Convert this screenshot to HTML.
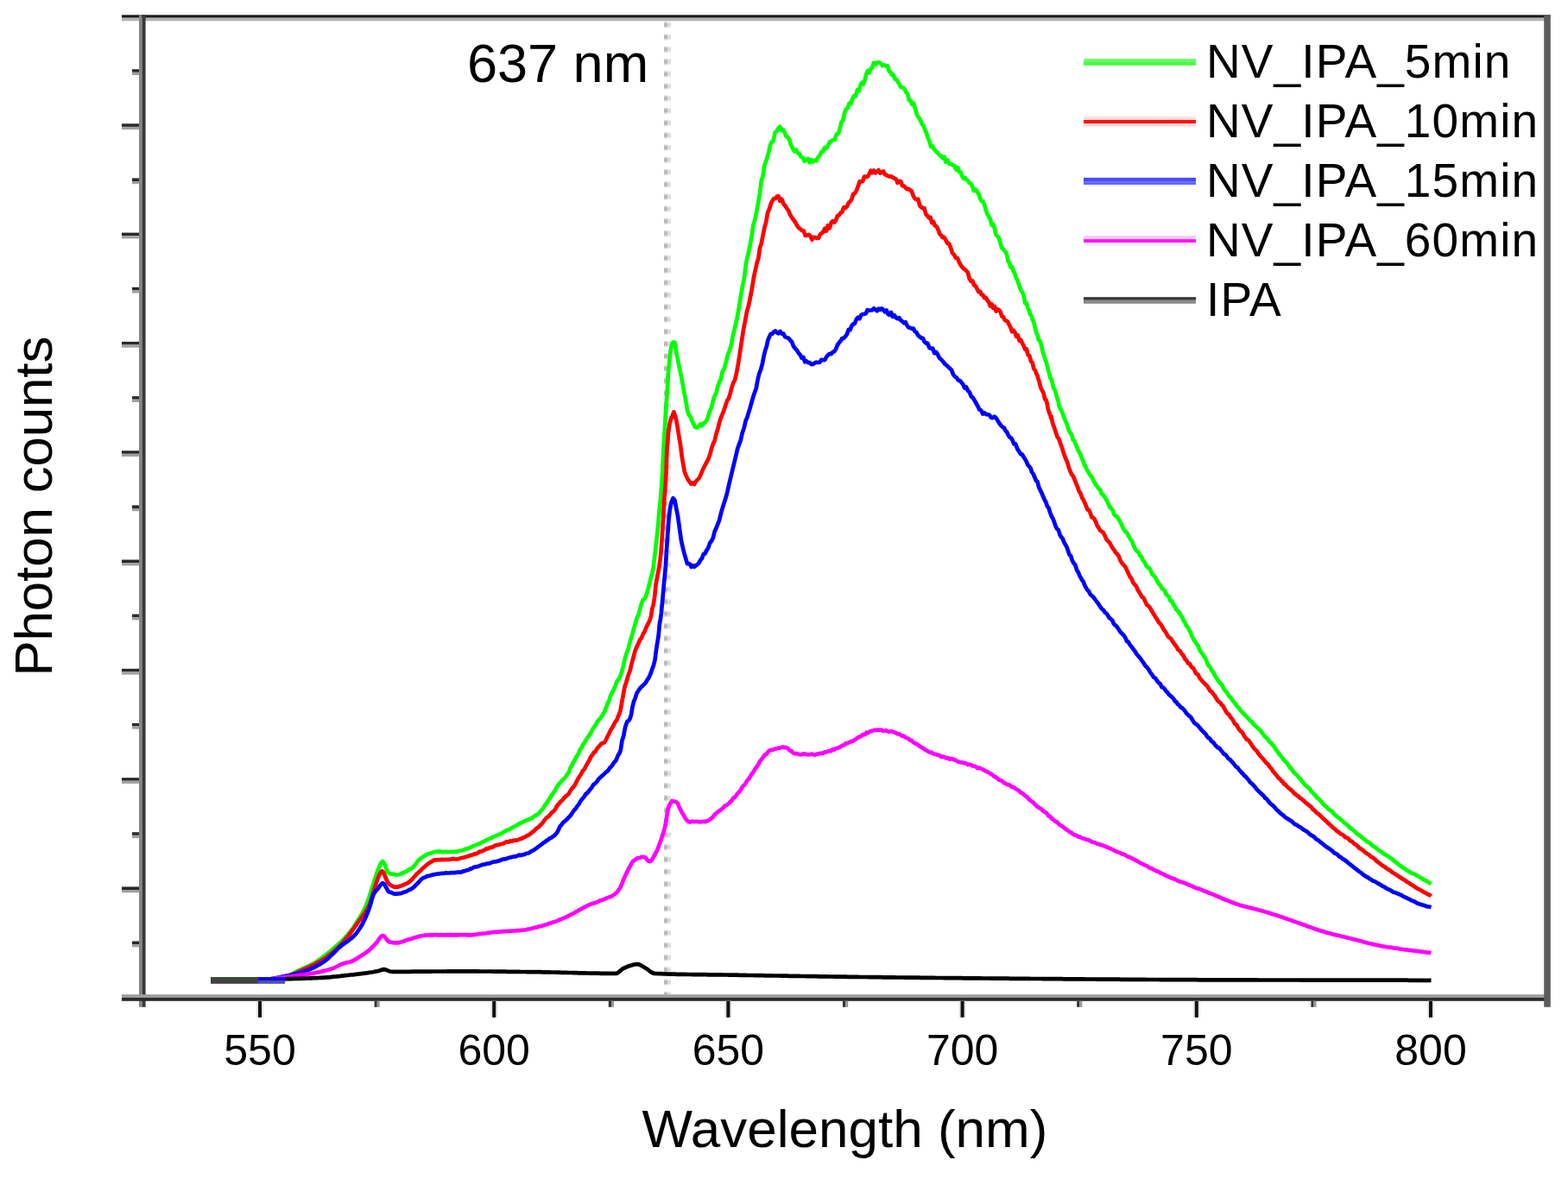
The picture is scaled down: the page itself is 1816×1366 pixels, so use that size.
<!DOCTYPE html>
<html><head><meta charset="utf-8"><title>Photon counts</title><style>html,body{margin:0;padding:0;background:#fff;overflow:hidden}svg{display:block}</style></head><body>
<svg width="1816" height="1366" viewBox="0 0 1816 1366">
<rect width="1816" height="1366" fill="#fff"/>
<line x1="771" y1="25.3" x2="771" y2="1152" stroke="#dadada" stroke-width="4" stroke-dasharray="7 7.22"/>
<line x1="775" y1="25.3" x2="775" y2="1152" stroke="#ededed" stroke-width="4" stroke-dasharray="7 7.22"/>
<line x1="771" y1="26.8" x2="771" y2="1152" stroke="#b8b8b8" stroke-width="4" stroke-dasharray="4 10.22"/>
<line x1="775" y1="26.8" x2="775" y2="1152" stroke="#dcdcdc" stroke-width="4" stroke-dasharray="4 10.22"/>
<path d="M244.0,1136.0 L246.0,1136.0 L248.0,1136.0 L250.0,1136.0 L252.0,1135.9 L254.0,1135.9 L256.0,1135.9 L258.0,1135.9 L260.0,1135.9 L262.0,1135.9 L264.0,1135.9 L266.0,1135.9 L268.0,1135.8 L270.0,1135.8 L272.0,1135.8 L274.0,1135.8 L276.0,1135.8 L278.0,1135.8 L280.0,1135.8 L282.0,1135.7 L284.0,1135.7 L286.0,1135.7 L288.0,1135.7 L290.0,1135.6 L292.0,1135.6 L294.0,1135.6 L296.0,1135.6 L298.0,1135.5 L300.0,1135.5 L301.9,1135.5 L303.8,1135.4 L305.8,1135.3 L307.7,1135.2 L309.6,1135.1 L311.5,1134.9 L313.5,1134.8 L315.4,1134.6 L317.3,1134.4 L319.2,1134.2 L321.2,1134.0 L323.1,1133.8 L325.0,1133.5 L326.9,1133.1 L328.8,1132.6 L330.7,1132.0 L332.6,1131.2 L334.5,1130.3 L336.4,1129.4 L338.3,1128.4 L340.2,1127.4 L342.1,1126.4 L344.0,1125.4 L345.9,1124.4 L347.8,1123.5 L349.8,1122.6 L351.8,1121.7 L353.8,1120.9 L355.8,1119.9 L357.7,1119.1 L359.7,1118.1 L361.7,1117.1 L363.7,1116.0 L365.5,1114.9 L367.2,1113.8 L369.0,1112.5 L370.8,1111.2 L372.5,1109.8 L374.3,1108.4 L376.1,1107.1 L377.8,1105.9 L379.6,1104.3 L381.4,1103.0 L383.1,1101.6 L384.9,1100.1 L386.7,1098.5 L388.4,1096.9 L390.2,1095.4 L392.0,1093.9 L393.7,1092.1 L395.5,1090.6 L397.3,1088.8 L399.1,1087.1 L400.9,1085.0 L402.6,1083.4 L404.4,1081.0 L406.2,1078.9 L407.9,1076.7 L409.6,1074.3 L411.3,1071.4 L413.0,1068.9 L414.7,1066.0 L416.6,1063.0 L418.4,1060.1 L420.2,1056.9 L422.1,1053.3 L423.9,1049.2 L425.6,1044.7 L427.4,1039.8 L429.2,1034.0 L430.9,1028.3 L432.7,1023.3 L434.1,1018.5 L435.6,1013.9 L437.0,1009.8 L439.0,1004.8 L441.0,1000.3 L443.0,998.0 L444.9,1000.0 L446.7,1004.3 L448.5,1009.7 L450.4,1011.6 L452.2,1012.4 L454.1,1013.0 L455.9,1012.8 L457.8,1013.4 L459.6,1013.6 L461.6,1013.2 L463.6,1012.9 L465.6,1011.7 L467.6,1011.1 L469.5,1009.9 L471.5,1009.3 L473.5,1007.6 L475.5,1006.6 L477.4,1005.6 L479.3,1003.5 L481.2,1001.5 L483.0,998.8 L484.9,996.6 L486.8,995.0 L488.7,993.4 L490.6,992.1 L492.5,991.2 L494.4,989.9 L496.3,989.2 L498.3,988.9 L500.2,988.2 L502.1,987.4 L504.0,986.9 L505.9,986.7 L507.9,986.4 L509.9,986.6 L511.8,987.1 L513.8,987.1 L515.8,986.7 L517.8,987.1 L519.8,987.0 L521.7,987.0 L523.7,986.9 L525.7,987.0 L527.7,986.6 L529.7,986.6 L531.6,985.9 L533.6,985.6 L535.6,985.2 L537.6,984.5 L539.6,983.4 L541.5,983.3 L543.5,982.3 L545.5,981.6 L547.5,980.3 L549.5,980.0 L551.5,978.9 L553.5,978.3 L555.5,977.2 L557.4,976.5 L559.4,975.4 L561.4,974.5 L563.4,973.1 L565.4,972.4 L567.4,971.6 L569.4,970.8 L571.3,969.4 L573.3,969.0 L575.3,968.1 L577.3,967.0 L579.3,966.4 L581.2,965.4 L583.2,964.0 L585.2,963.0 L587.2,961.7 L589.2,961.3 L591.1,960.4 L593.1,958.8 L595.1,958.0 L597.1,957.0 L599.1,955.9 L601.0,954.2 L603.0,953.8 L605.0,952.6 L607.0,951.7 L608.9,950.6 L610.9,950.0 L612.8,949.3 L614.8,948.3 L616.7,947.4 L618.7,945.6 L620.6,944.6 L622.6,943.5 L624.4,942.2 L626.1,939.7 L627.9,938.0 L629.7,935.5 L631.4,932.3 L633.2,930.4 L635.2,927.3 L637.2,924.1 L639.1,921.1 L641.1,918.4 L643.1,915.1 L645.0,912.1 L647.0,908.8 L649.0,906.7 L651.0,904.2 L653.0,902.4 L654.9,900.2 L656.9,897.1 L658.7,894.9 L660.4,889.9 L662.2,886.9 L663.8,883.6 L665.5,880.8 L667.1,877.4 L668.7,875.6 L670.4,871.9 L672.0,868.3 L673.6,866.3 L675.3,862.5 L677.3,859.9 L679.2,856.3 L681.2,853.5 L683.2,850.9 L684.9,847.9 L686.5,844.5 L688.1,842.6 L689.8,839.8 L691.4,836.9 L693.1,834.3 L694.8,832.9 L696.4,830.4 L698.4,827.7 L700.4,823.9 L702.0,819.5 L703.7,815.0 L705.3,812.1 L707.0,806.3 L708.8,802.6 L710.5,799.5 L712.5,795.0 L714.5,789.5 L716.3,787.1 L718.0,784.5 L719.8,779.3 L721.8,772.0 L723.7,763.2 L725.7,756.7 L727.7,751.7 L729.7,743.1 L731.6,737.2 L733.6,730.4 L735.6,723.2 L737.5,716.4 L739.5,712.3 L741.5,704.1 L743.5,697.8 L745.3,694.0 L747.2,693.0 L749.0,688.0 L750.8,681.5 L752.5,674.9 L753.9,668.7 L755.3,664.7 L756.7,657.2 L758.5,642.3 L760.3,626.1 L762.0,610.6 L763.6,591.3 L765.0,578.4 L766.4,559.8 L767.2,546.6 L768.0,529.4 L769.0,510.8 L770.0,495.1 L771.4,471.1 L772.8,452.0 L773.9,432.7 L775.0,420.5 L776.4,407.6 L777.8,400.6 L779.0,397.1 L780.3,396.3 L781.9,397.5 L783.4,409.3 L785.0,416.3 L786.6,425.1 L788.1,432.1 L789.7,439.9 L791.3,448.8 L792.9,457.1 L794.5,465.8 L796.0,475.4 L797.6,480.4 L799.5,482.5 L801.4,487.2 L803.2,491.1 L805.1,494.9 L807.0,495.6 L808.9,494.2 L810.8,491.5 L812.7,493.4 L814.6,490.8 L816.5,489.5 L818.4,487.1 L820.3,482.3 L822.1,476.1 L824.0,471.9 L825.9,464.1 L827.7,458.8 L829.5,455.5 L831.3,447.5 L833.1,442.5 L834.9,439.3 L836.7,430.5 L838.5,428.1 L840.1,422.3 L841.8,415.8 L843.4,409.6 L845.0,406.0 L847.0,399.1 L849.0,387.7 L851.0,380.6 L853.0,371.6 L854.8,362.2 L856.6,351.5 L858.4,340.2 L860.1,331.4 L861.9,321.7 L863.7,307.5 L865.5,298.1 L867.2,291.8 L868.9,282.8 L870.6,273.3 L872.3,261.2 L874.0,255.9 L876.0,246.5 L878.0,235.7 L880.0,223.1 L882.0,208.4 L883.6,203.9 L885.3,192.1 L886.9,187.3 L888.6,182.6 L890.4,175.8 L892.1,167.8 L893.9,164.2 L895.6,163.2 L897.6,153.6 L899.5,152.1 L901.5,148.5 L903.3,146.8 L905.0,151.0 L906.8,150.0 L908.5,153.1 L910.3,157.5 L912.2,158.9 L914.2,161.9 L916.1,168.1 L918.1,172.0 L920.0,175.5 L922.0,173.5 L924.0,177.3 L925.9,178.5 L927.9,181.9 L929.8,182.9 L931.8,186.9 L933.7,184.9 L935.7,184.0 L937.6,188.2 L939.6,185.1 L941.5,187.4 L943.5,185.7 L945.4,186.4 L947.4,182.3 L949.3,180.4 L951.3,175.9 L953.2,175.1 L955.2,171.0 L957.1,171.8 L959.0,168.5 L961.0,164.4 L963.0,163.2 L964.9,162.0 L966.8,161.8 L968.8,155.6 L970.7,155.0 L972.5,150.1 L974.4,141.5 L976.3,139.5 L978.1,130.9 L980.0,126.3 L981.8,125.3 L983.5,119.7 L985.2,120.4 L987.0,115.2 L989.0,111.2 L991.0,111.3 L993.0,103.8 L995.0,105.1 L996.7,98.2 L998.3,95.8 L1000.0,97.5 L1001.7,92.4 L1003.3,86.0 L1005.0,81.9 L1006.7,84.3 L1008.3,79.7 L1010.0,78.7 L1012.0,72.7 L1014.0,74.7 L1016.0,72.6 L1018.0,72.2 L1020.0,73.5 L1022.0,76.1 L1024.0,75.3 L1026.0,76.6 L1028.0,76.4 L1029.7,82.5 L1031.3,83.5 L1033.0,86.7 L1034.7,86.7 L1036.3,91.6 L1038.0,91.8 L1039.7,94.6 L1041.3,97.0 L1043.0,100.6 L1044.7,101.0 L1046.3,101.8 L1048.0,103.9 L1049.7,107.4 L1051.3,108.9 L1053.0,116.5 L1054.7,116.6 L1056.3,121.0 L1058.0,119.4 L1060.0,126.2 L1062.0,133.1 L1064.0,136.0 L1066.0,139.5 L1067.7,143.7 L1069.4,145.6 L1071.1,149.9 L1072.8,153.9 L1074.5,159.1 L1076.3,163.4 L1078.2,170.1 L1080.0,169.3 L1081.9,172.9 L1083.8,175.4 L1085.8,176.8 L1087.7,179.3 L1089.6,180.5 L1091.6,183.2 L1093.6,181.7 L1095.5,187.8 L1097.5,185.6 L1099.5,190.0 L1101.5,190.0 L1103.5,191.4 L1105.4,192.0 L1107.4,196.7 L1109.4,194.3 L1111.1,199.5 L1112.7,199.7 L1114.3,204.2 L1116.0,206.9 L1117.7,205.9 L1119.3,208.2 L1120.9,209.1 L1122.6,211.9 L1124.4,212.8 L1126.2,216.3 L1128.0,221.1 L1129.9,219.7 L1131.7,221.7 L1133.5,225.4 L1134.2,225.7 L1135.0,229.6 L1136.7,232.9 L1138.4,233.4 L1140.1,237.4 L1141.8,243.4 L1143.5,248.5 L1145.1,250.8 L1146.8,253.7 L1148.5,260.8 L1150.2,259.9 L1151.9,264.4 L1153.6,272.0 L1155.2,273.9 L1156.9,275.5 L1158.6,281.6 L1160.3,287.4 L1162.0,288.5 L1163.4,290.6 L1164.8,292.4 L1166.2,295.4 L1167.6,302.8 L1169.0,304.0 L1170.4,309.6 L1172.1,309.2 L1173.8,314.2 L1175.5,317.4 L1176.9,322.5 L1178.3,324.3 L1179.7,328.8 L1181.1,333.0 L1182.5,336.1 L1183.9,338.4 L1185.6,342.6 L1187.2,351.2 L1188.9,351.6 L1190.3,356.7 L1191.7,359.8 L1193.1,364.1 L1194.5,365.7 L1195.9,370.6 L1197.3,373.5 L1198.7,379.5 L1200.1,385.3 L1201.5,388.0 L1202.9,393.6 L1204.4,395.2 L1205.8,398.9 L1207.4,406.5 L1209.1,411.7 L1210.5,416.7 L1211.9,420.5 L1213.3,426.2 L1214.9,431.9 L1216.5,438.1 L1217.7,439.5 L1218.9,444.1 L1220.0,449.3 L1221.1,450.5 L1223.0,456.4 L1225.0,463.4 L1225.7,464.5 L1226.3,469.2 L1227.7,473.4 L1229.0,475.2 L1230.5,478.5 L1231.9,482.2 L1233.4,486.5 L1235.2,490.2 L1236.9,495.6 L1238.4,499.5 L1239.8,501.6 L1241.3,504.2 L1242.8,509.8 L1244.2,510.7 L1245.7,514.5 L1247.5,518.7 L1249.2,522.9 L1251.0,525.7 L1252.7,530.6 L1254.2,533.3 L1255.6,537.9 L1257.1,540.1 L1258.6,544.1 L1260.0,546.0 L1261.5,548.9 L1263.2,551.2 L1265.0,553.6 L1266.7,557.6 L1268.1,559.2 L1269.5,562.4 L1270.9,563.8 L1272.5,566.3 L1274.1,567.4 L1275.7,571.9 L1277.3,573.1 L1278.9,575.0 L1280.5,577.6 L1282.1,580.7 L1283.7,583.7 L1285.3,587.8 L1287.0,589.2 L1288.6,591.0 L1290.2,595.8 L1291.8,597.6 L1293.4,598.3 L1295.0,600.7 L1296.6,603.3 L1298.5,606.9 L1300.4,611.4 L1302.3,614.6 L1304.2,616.7 L1305.6,617.9 L1307.0,621.0 L1308.4,623.3 L1309.8,625.7 L1311.2,627.3 L1312.6,631.5 L1314.6,635.6 L1316.5,638.5 L1318.5,639.7 L1320.2,643.6 L1321.9,645.0 L1323.6,649.1 L1325.3,650.8 L1327.2,655.0 L1329.2,657.4 L1331.1,658.2 L1332.8,661.3 L1334.5,665.5 L1336.2,666.7 L1337.6,668.7 L1339.0,670.8 L1340.4,673.7 L1342.1,676.6 L1343.8,677.9 L1345.5,681.5 L1347.2,682.9 L1348.8,684.0 L1350.5,688.4 L1352.2,689.9 L1353.9,691.4 L1355.6,696.4 L1357.3,696.4 L1358.9,700.3 L1360.6,702.6 L1362.3,706.2 L1364.0,707.5 L1365.6,709.7 L1367.3,712.5 L1369.0,715.1 L1370.7,718.8 L1372.4,721.2 L1374.1,725.1 L1375.7,726.9 L1377.4,730.2 L1378.9,732.8 L1380.5,737.4 L1382.0,739.9 L1383.3,742.4 L1384.7,744.3 L1386.3,746.8 L1388.0,749.2 L1389.6,753.7 L1391.3,755.8 L1392.9,757.6 L1394.7,761.0 L1396.4,763.8 L1398.2,768.2 L1399.9,771.6 L1401.5,772.8 L1403.2,776.8 L1404.8,778.4 L1406.5,781.7 L1408.1,784.6 L1409.8,786.7 L1411.6,789.8 L1413.3,791.5 L1415.1,793.4 L1417.1,797.5 L1419.0,800.5 L1421.0,802.6 L1422.6,805.3 L1424.3,807.4 L1425.9,809.0 L1427.6,811.5 L1429.2,813.6 L1431.1,815.9 L1432.9,818.5 L1434.8,820.0 L1436.6,823.1 L1438.5,824.9 L1440.4,827.1 L1442.3,828.8 L1444.1,830.8 L1446.0,832.6 L1447.9,835.1 L1449.5,836.1 L1451.2,838.2 L1452.8,840.1 L1454.5,841.6 L1456.1,842.9 L1457.7,844.3 L1459.4,846.1 L1461.0,848.3 L1462.7,850.5 L1464.3,852.6 L1466.2,854.6 L1468.1,856.0 L1469.9,859.2 L1471.8,860.3 L1473.7,863.3 L1475.3,864.2 L1476.8,867.3 L1478.4,869.2 L1480.2,872.0 L1482.0,874.3 L1483.8,876.3 L1485.6,878.8 L1487.4,881.0 L1489.1,882.9 L1490.7,884.3 L1492.3,886.9 L1494.0,889.5 L1496.0,891.0 L1498.0,894.5 L1499.7,896.0 L1501.5,897.8 L1503.2,899.2 L1504.8,901.6 L1506.5,903.1 L1508.2,905.5 L1509.8,907.6 L1511.6,909.5 L1513.3,911.0 L1515.1,912.6 L1516.8,914.0 L1518.4,916.5 L1520.0,918.1 L1521.7,920.2 L1523.5,921.6 L1525.2,924.2 L1527.0,925.3 L1528.7,927.2 L1530.5,929.0 L1532.2,931.2 L1534.0,933.3 L1535.7,934.1 L1537.5,936.3 L1539.2,938.0 L1540.8,938.8 L1542.4,940.0 L1544.1,942.0 L1545.9,943.9 L1547.6,945.4 L1549.4,946.8 L1551.2,948.0 L1553.1,949.6 L1554.9,951.3 L1556.7,953.3 L1558.5,954.3 L1560.3,955.9 L1562.2,957.9 L1564.0,959.9 L1565.8,960.7 L1567.5,962.0 L1569.2,963.5 L1571.0,965.4 L1572.7,966.8 L1574.4,967.8 L1576.2,969.1 L1577.9,970.8 L1579.6,972.2 L1581.6,973.7 L1583.5,975.2 L1585.5,976.0 L1587.5,977.9 L1589.2,979.5 L1591.0,980.9 L1592.8,981.6 L1594.5,983.4 L1596.2,984.5 L1598.0,986.0 L1599.7,986.6 L1601.4,988.2 L1603.1,989.5 L1604.8,990.4 L1606.6,991.3 L1608.3,992.6 L1610.0,993.9 L1611.8,995.1 L1613.5,996.4 L1615.2,998.1 L1617.2,999.2 L1619.2,1001.2 L1621.1,1002.6 L1623.1,1004.0 L1625.1,1005.4 L1627.0,1006.6 L1629.0,1008.1 L1631.0,1009.3 L1633.0,1010.3 L1635.0,1011.7 L1636.9,1012.2 L1638.9,1013.3 L1640.9,1014.4 L1642.8,1015.5 L1644.8,1016.7 L1646.8,1017.8 L1648.5,1019.0 L1650.3,1020.0 L1652.0,1020.5 L1653.8,1021.8 L1655.7,1023.0 L1657.5,1024.1" fill="none" stroke="#00ff00" stroke-width="4.7" stroke-linejoin="round" stroke-linecap="butt"/>
<path d="M244.0,1136.0 L246.0,1136.0 L248.0,1136.0 L250.0,1136.0 L252.0,1135.9 L254.0,1135.9 L256.0,1135.9 L258.0,1135.9 L260.0,1135.9 L262.0,1135.9 L264.0,1135.9 L266.0,1135.9 L268.0,1135.8 L270.0,1135.8 L272.0,1135.8 L274.0,1135.8 L276.0,1135.8 L278.0,1135.8 L280.0,1135.8 L282.0,1135.7 L284.0,1135.7 L286.0,1135.7 L288.0,1135.7 L290.0,1135.7 L292.0,1135.6 L294.0,1135.6 L296.0,1135.6 L298.0,1135.5 L300.0,1135.5 L301.9,1135.5 L303.8,1135.4 L305.8,1135.3 L307.7,1135.2 L309.6,1135.1 L311.5,1134.9 L313.5,1134.8 L315.4,1134.6 L317.3,1134.4 L319.2,1134.2 L321.2,1134.0 L323.1,1133.7 L325.0,1133.5 L326.9,1133.2 L328.8,1132.7 L330.8,1132.2 L332.7,1131.6 L334.6,1130.9 L336.5,1130.1 L338.5,1129.3 L340.4,1128.4 L342.3,1127.5 L344.2,1126.6 L346.2,1125.7 L348.1,1124.8 L350.0,1124.0 L351.9,1123.2 L353.7,1122.3 L355.6,1121.5 L357.5,1120.6 L359.3,1119.7 L361.2,1118.8 L363.1,1117.9 L365.0,1116.9 L366.8,1115.9 L368.7,1114.9 L370.6,1113.8 L372.4,1112.6 L374.3,1111.5 L376.2,1110.3 L378.2,1108.9 L380.1,1107.4 L382.0,1105.9 L383.9,1104.3 L385.9,1102.7 L387.8,1100.9 L389.7,1099.2 L391.6,1097.5 L393.6,1095.6 L395.5,1093.6 L397.4,1091.6 L399.3,1089.1 L401.3,1086.8 L403.2,1084.6 L405.1,1082.0 L407.0,1079.3 L408.9,1076.8 L410.9,1074.0 L412.8,1071.4 L414.7,1068.4 L416.6,1065.8 L418.5,1063.3 L420.4,1060.6 L422.2,1058.0 L424.1,1055.3 L426.0,1051.7 L427.9,1047.7 L429.9,1042.3 L431.9,1035.3 L433.9,1028.6 L435.9,1022.4 L437.5,1018.0 L439.2,1013.6 L440.9,1011.0 L442.5,1009.2 L444.1,1010.8 L445.8,1014.7 L447.5,1019.2 L449.1,1022.3 L451.1,1024.6 L453.1,1025.9 L455.0,1027.1 L457.0,1027.8 L459.0,1027.5 L461.0,1027.7 L463.0,1026.6 L464.9,1026.2 L466.9,1025.5 L468.9,1024.4 L470.9,1023.8 L472.9,1022.5 L474.8,1021.1 L476.7,1019.5 L478.6,1017.2 L480.4,1015.2 L482.3,1012.9 L484.2,1011.3 L486.1,1009.6 L488.1,1007.6 L490.1,1005.5 L492.0,1004.0 L494.0,1002.3 L496.0,1000.6 L498.0,999.2 L500.0,998.4 L501.9,996.8 L503.9,996.1 L505.9,996.5 L507.9,996.0 L509.9,996.3 L511.8,995.7 L513.8,996.1 L515.8,995.9 L517.8,995.9 L519.8,995.9 L521.7,995.6 L523.7,995.2 L525.7,995.2 L527.7,995.5 L529.7,995.3 L531.6,995.0 L533.6,994.0 L535.6,993.8 L537.6,993.4 L539.6,992.7 L541.5,992.3 L543.5,991.4 L545.5,990.9 L547.5,990.3 L549.5,989.3 L551.5,989.1 L553.5,988.3 L555.5,986.6 L557.4,986.6 L559.4,985.7 L561.4,984.6 L563.4,983.2 L565.4,983.3 L567.4,981.8 L569.4,981.9 L571.3,980.9 L573.3,979.7 L575.3,979.1 L577.3,978.9 L579.3,978.2 L581.2,977.7 L583.2,977.3 L585.2,976.0 L587.2,975.3 L589.2,975.6 L591.1,974.3 L593.1,974.7 L595.1,973.5 L597.1,973.7 L599.1,973.2 L601.0,972.7 L603.0,971.8 L605.0,971.4 L606.9,969.9 L608.8,969.4 L610.7,968.0 L612.5,967.4 L614.4,966.0 L616.3,964.3 L618.2,963.0 L620.1,961.0 L622.1,959.3 L624.0,958.1 L626.0,955.9 L628.0,953.9 L629.9,951.3 L631.9,948.5 L633.7,946.9 L635.6,945.6 L637.4,943.5 L639.3,941.1 L641.1,940.1 L643.1,937.6 L645.0,933.9 L647.0,931.7 L649.0,929.0 L651.0,927.4 L653.0,924.9 L654.9,922.9 L656.9,921.2 L658.9,919.5 L660.8,915.8 L662.8,913.1 L664.8,910.9 L666.4,908.4 L668.1,904.8 L669.8,901.6 L671.4,899.3 L673.2,896.5 L674.9,892.9 L676.7,891.5 L678.7,887.3 L680.6,884.0 L682.6,880.7 L684.6,876.3 L686.2,874.6 L687.9,871.7 L689.5,871.0 L691.1,868.0 L692.9,865.6 L694.6,863.9 L696.4,861.7 L698.2,860.9 L700.0,860.2 L701.8,857.5 L703.5,853.2 L704.9,850.9 L706.2,848.1 L707.6,845.2 L709.0,843.3 L710.3,840.9 L711.7,837.9 L713.1,835.8 L714.4,834.2 L715.8,830.2 L717.1,827.5 L718.5,823.4 L719.8,816.2 L721.1,808.9 L722.4,801.8 L723.7,795.0 L725.7,789.4 L727.7,782.2 L729.7,776.7 L731.6,768.7 L733.6,761.5 L735.6,754.0 L737.5,749.3 L739.5,745.3 L741.3,741.0 L743.0,739.0 L744.8,734.5 L746.8,731.3 L748.8,726.0 L750.8,722.4 L752.7,718.1 L754.0,713.9 L755.4,705.0 L756.7,700.9 L758.0,692.3 L758.8,685.6 L759.5,677.6 L760.9,670.1 L762.4,662.2 L763.8,654.8 L765.5,640.3 L767.2,616.1 L768.2,598.9 L769.3,578.4 L770.4,565.1 L771.5,548.3 L772.0,532.9 L772.4,521.7 L774.0,501.3 L775.5,491.2 L777.1,485.4 L778.7,481.9 L780.3,477.3 L781.9,481.6 L783.5,487.9 L785.0,496.9 L786.6,507.0 L788.2,516.5 L789.8,529.5 L791.3,537.8 L792.9,546.8 L794.8,551.4 L796.7,555.6 L798.5,558.0 L800.4,560.7 L802.3,559.5 L804.1,561.1 L806.0,557.6 L807.8,555.9 L809.6,554.0 L811.5,550.2 L813.3,545.6 L815.1,541.8 L816.9,538.3 L818.7,535.0 L820.5,531.7 L822.3,526.4 L824.1,519.5 L825.9,514.3 L827.7,510.5 L829.5,502.7 L831.3,497.2 L833.1,489.6 L834.9,484.2 L836.7,479.8 L838.5,475.0 L840.3,469.7 L842.1,464.1 L843.9,462.0 L845.6,456.2 L847.4,449.4 L849.2,443.6 L851.0,440.8 L853.0,432.1 L855.0,421.4 L857.0,408.5 L859.0,395.1 L861.0,382.2 L863.0,371.7 L865.0,360.9 L867.0,354.1 L869.0,344.2 L871.0,334.0 L873.0,321.3 L875.0,312.1 L876.7,304.2 L878.4,299.1 L880.1,286.9 L881.8,282.0 L883.5,273.2 L885.4,263.7 L887.2,257.4 L889.1,246.4 L891.0,242.0 L892.8,236.1 L894.5,232.7 L896.2,230.1 L898.0,229.9 L899.8,227.7 L901.5,227.1 L903.5,232.9 L905.4,230.7 L907.4,236.3 L909.3,238.2 L911.2,241.4 L913.2,244.2 L915.2,249.1 L917.1,252.1 L919.0,254.7 L921.0,257.3 L923.0,261.1 L924.9,263.9 L926.9,265.3 L928.8,267.2 L930.8,267.4 L932.7,272.9 L934.7,272.7 L936.6,271.9 L938.6,273.5 L940.5,277.8 L942.5,274.8 L944.3,275.2 L946.1,276.0 L948.0,275.8 L949.8,271.6 L951.6,270.2 L953.5,268.7 L955.3,264.8 L957.1,267.5 L958.9,261.2 L960.8,264.3 L962.6,258.1 L964.5,256.1 L966.3,257.6 L968.1,255.3 L970.0,249.9 L971.8,249.3 L973.6,246.6 L975.4,245.5 L977.3,240.1 L979.1,241.0 L980.9,239.3 L982.8,235.1 L984.6,233.5 L986.4,230.8 L988.2,224.8 L990.0,224.2 L991.9,220.8 L993.7,216.2 L995.5,210.4 L997.4,210.5 L999.2,209.8 L1001.0,204.5 L1002.8,204.8 L1004.7,204.8 L1006.5,201.9 L1008.4,197.7 L1010.2,200.2 L1012.0,197.4 L1013.9,200.3 L1015.7,199.0 L1017.5,197.1 L1019.4,200.7 L1021.2,199.6 L1023.0,198.5 L1024.8,201.9 L1026.7,203.0 L1028.5,203.8 L1030.3,204.6 L1032.1,204.3 L1034.0,205.7 L1035.8,206.6 L1037.7,207.6 L1039.5,211.8 L1041.3,209.9 L1043.2,210.0 L1045.0,215.1 L1046.8,215.5 L1048.7,217.3 L1050.5,219.2 L1052.3,218.9 L1054.1,220.3 L1055.9,221.4 L1057.8,227.2 L1059.6,230.0 L1061.4,231.2 L1063.3,230.7 L1065.2,238.1 L1067.0,240.1 L1068.8,241.1 L1070.5,241.0 L1072.3,248.2 L1074.0,249.7 L1075.8,252.4 L1077.6,251.8 L1079.3,258.1 L1081.1,257.0 L1082.9,261.7 L1084.6,262.4 L1086.4,265.8 L1088.2,270.9 L1089.9,272.4 L1091.7,275.1 L1093.4,274.9 L1095.2,277.9 L1097.2,281.9 L1099.1,282.0 L1101.1,287.1 L1103.0,293.1 L1105.0,295.1 L1106.9,298.8 L1108.9,299.0 L1110.9,304.0 L1112.9,307.5 L1114.9,310.1 L1116.9,311.8 L1118.9,313.5 L1120.9,315.8 L1122.7,322.8 L1124.5,325.8 L1126.3,325.3 L1128.1,330.4 L1129.9,331.3 L1131.7,334.9 L1133.4,338.2 L1135.1,337.8 L1136.7,341.4 L1138.4,341.8 L1140.1,345.1 L1141.8,344.8 L1143.4,347.9 L1145.1,349.8 L1146.8,354.5 L1148.5,352.4 L1150.2,356.8 L1151.9,355.1 L1153.6,360.6 L1155.3,358.2 L1157.0,359.2 L1158.7,361.4 L1160.3,366.5 L1162.0,367.4 L1163.7,370.8 L1165.3,371.6 L1167.0,372.5 L1168.7,376.2 L1170.4,379.3 L1172.1,384.2 L1173.8,382.7 L1175.5,385.2 L1177.1,389.9 L1178.8,388.6 L1180.5,394.6 L1182.2,393.9 L1183.9,397.6 L1185.6,400.7 L1187.3,404.8 L1188.9,404.4 L1190.6,411.2 L1192.3,412.2 L1194.0,418.6 L1195.7,419.9 L1197.3,427.3 L1199.0,429.2 L1200.2,432.6 L1201.5,435.2 L1202.5,439.0 L1203.5,441.7 L1205.3,449.1 L1207.0,452.3 L1208.8,456.2 L1210.1,462.6 L1211.4,463.1 L1212.5,466.7 L1213.6,473.1 L1215.2,478.1 L1216.7,482.0 L1217.2,484.6 L1217.6,482.5 L1219.3,491.2 L1221.1,495.7 L1222.8,500.7 L1224.6,506.3 L1226.3,508.4 L1228.1,513.6 L1229.8,518.1 L1231.6,524.1 L1232.9,527.8 L1234.2,531.2 L1236.0,535.2 L1237.8,541.2 L1239.5,546.0 L1241.3,550.0 L1243.0,551.8 L1244.8,556.4 L1246.4,560.4 L1248.0,564.1 L1249.7,569.1 L1251.4,571.6 L1253.1,576.6 L1254.7,579.0 L1256.3,582.4 L1258.0,586.7 L1259.6,590.6 L1261.2,591.1 L1262.8,594.5 L1264.4,599.4 L1266.0,599.6 L1267.6,601.7 L1269.2,604.8 L1270.8,609.3 L1272.5,611.5 L1274.1,614.5 L1275.7,615.5 L1277.7,617.1 L1279.7,620.9 L1281.7,625.2 L1283.7,627.3 L1285.3,629.0 L1286.9,632.2 L1288.6,634.9 L1290.2,637.1 L1291.8,639.8 L1293.8,641.9 L1295.8,644.5 L1297.7,649.8 L1299.7,652.8 L1301.7,655.0 L1303.4,656.9 L1305.0,660.3 L1306.7,663.9 L1308.7,668.3 L1310.6,670.7 L1312.6,675.5 L1314.3,677.3 L1316.0,679.3 L1317.7,683.4 L1319.4,686.1 L1321.1,688.9 L1322.7,691.9 L1324.4,692.7 L1326.4,696.9 L1328.3,700.9 L1330.3,702.2 L1332.3,704.9 L1334.2,708.3 L1336.2,711.6 L1338.2,714.9 L1340.1,717.6 L1342.1,721.3 L1344.1,723.0 L1346.0,726.2 L1348.0,729.8 L1350.0,732.2 L1351.9,736.0 L1353.9,738.6 L1355.6,739.3 L1357.2,741.8 L1358.9,744.5 L1360.6,746.8 L1362.6,749.1 L1364.5,752.9 L1366.5,754.1 L1368.5,757.4 L1370.4,759.3 L1372.4,763.6 L1374.3,765.3 L1376.1,768.6 L1378.0,769.1 L1379.4,772.1 L1380.9,773.7 L1382.3,774.4 L1384.1,778.4 L1385.8,780.9 L1387.6,781.6 L1389.4,785.7 L1391.2,787.7 L1392.9,789.6 L1394.7,791.6 L1396.4,793.2 L1398.2,794.9 L1399.9,797.8 L1401.7,800.7 L1403.4,801.5 L1405.0,803.9 L1406.5,805.5 L1408.1,808.2 L1409.8,811.0 L1411.6,813.1 L1413.3,814.2 L1415.1,816.8 L1416.7,818.2 L1418.2,821.4 L1419.8,824.2 L1421.5,826.7 L1423.3,827.7 L1425.0,830.8 L1426.8,832.6 L1428.6,835.6 L1430.3,838.8 L1432.1,840.0 L1433.9,843.3 L1435.5,845.6 L1437.2,847.4 L1438.8,848.5 L1440.5,851.9 L1442.1,854.1 L1444.0,856.8 L1446.0,857.7 L1447.9,860.3 L1449.9,863.4 L1451.8,866.3 L1453.8,868.5 L1455.7,870.3 L1457.7,873.5 L1459.6,875.8 L1461.3,877.7 L1463.1,879.6 L1464.8,881.7 L1466.6,884.1 L1468.4,885.3 L1470.2,888.1 L1471.9,889.9 L1473.7,892.2 L1474.7,894.3 L1475.6,894.9 L1477.2,897.0 L1478.9,898.8 L1480.5,901.2 L1482.2,902.3 L1483.8,904.7 L1485.5,905.6 L1487.1,908.4 L1488.7,908.8 L1490.5,911.3 L1492.2,912.7 L1494.0,914.2 L1495.7,915.6 L1497.3,917.2 L1498.9,919.2 L1500.6,920.3 L1502.2,921.8 L1503.9,922.8 L1505.5,924.6 L1507.2,925.4 L1509.2,927.3 L1511.2,929.1 L1513.1,930.6 L1515.1,932.3 L1516.8,933.7 L1518.4,934.7 L1520.0,937.1 L1521.7,938.4 L1523.3,940.0 L1525.0,941.8 L1526.7,942.8 L1528.3,944.3 L1530.0,945.9 L1531.6,947.5 L1533.2,949.0 L1534.9,950.6 L1536.9,952.3 L1538.8,954.4 L1540.8,955.9 L1542.8,957.8 L1544.5,959.5 L1546.1,960.5 L1547.8,962.5 L1549.4,963.7 L1551.1,964.6 L1552.8,966.3 L1554.5,966.9 L1556.2,968.0 L1557.9,970.1 L1559.9,970.5 L1561.8,971.9 L1563.8,974.2 L1565.8,974.9 L1567.5,976.8 L1569.2,978.1 L1571.0,979.2 L1572.7,980.6 L1574.4,982.7 L1576.2,983.5 L1577.9,984.7 L1579.6,986.2 L1581.6,988.0 L1583.5,989.1 L1585.5,990.4 L1587.5,992.5 L1589.2,993.2 L1591.0,994.5 L1592.8,995.8 L1594.5,997.9 L1596.2,998.8 L1598.0,1000.4 L1599.7,1001.6 L1601.4,1003.2 L1603.4,1004.2 L1605.3,1005.6 L1607.3,1007.2 L1609.3,1008.0 L1611.3,1009.6 L1613.2,1011.2 L1615.2,1012.3 L1617.2,1013.5 L1619.2,1015.1 L1621.2,1016.1 L1623.1,1017.6 L1625.1,1018.7 L1626.9,1019.7 L1628.7,1021.1 L1630.4,1022.2 L1632.2,1023.2 L1634.0,1024.6 L1636.0,1025.7 L1638.0,1027.1 L1639.9,1028.5 L1641.9,1029.6 L1643.9,1030.8 L1645.9,1031.6 L1647.8,1032.9 L1649.8,1034.1 L1651.8,1034.9 L1653.7,1036.2 L1655.6,1036.8 L1657.5,1038.4" fill="none" stroke="#ff0000" stroke-width="4.7" stroke-linejoin="round" stroke-linecap="butt"/>
<path d="M244.0,1136.0 L246.0,1136.0 L248.0,1136.0 L250.0,1136.0 L252.0,1135.9 L254.0,1135.9 L256.0,1135.9 L258.0,1135.9 L260.0,1135.9 L262.0,1135.9 L264.0,1135.9 L266.0,1135.9 L268.0,1135.8 L270.0,1135.8 L272.0,1135.8 L274.0,1135.8 L276.0,1135.8 L278.0,1135.8 L280.0,1135.8 L282.0,1135.7 L284.0,1135.7 L286.0,1135.7 L288.0,1135.7 L290.0,1135.7 L292.0,1135.6 L294.0,1135.6 L296.0,1135.6 L298.0,1135.5 L300.0,1135.5 L302.0,1135.4 L304.0,1135.3 L306.0,1135.1 L308.0,1134.9 L310.0,1134.7 L312.0,1134.4 L314.0,1134.1 L316.0,1133.7 L318.0,1133.3 L320.0,1133.0 L322.0,1132.6 L324.0,1132.2 L326.0,1131.8 L328.0,1131.4 L330.0,1131.0 L331.9,1130.6 L333.9,1130.2 L335.8,1129.9 L337.7,1129.4 L339.6,1129.0 L341.6,1128.6 L343.5,1128.1 L345.4,1127.6 L347.3,1127.1 L349.2,1126.5 L351.2,1125.9 L353.1,1125.3 L355.0,1124.7 L357.0,1123.9 L358.9,1123.1 L360.8,1122.2 L362.7,1121.3 L364.7,1120.3 L366.6,1119.3 L368.5,1118.2 L370.4,1117.1 L372.4,1115.9 L374.3,1114.7 L376.2,1113.4 L378.2,1111.8 L380.1,1110.3 L382.0,1108.4 L383.9,1106.6 L385.9,1104.7 L387.8,1102.9 L389.7,1101.0 L391.6,1099.0 L393.6,1097.3 L395.5,1095.5 L397.5,1094.0 L399.5,1092.5 L401.5,1091.2 L403.5,1089.8 L405.5,1088.2 L407.5,1086.7 L409.5,1084.8 L411.5,1082.7 L413.2,1080.8 L414.9,1078.3 L416.6,1075.8 L418.3,1073.1 L420.0,1070.1 L421.9,1066.3 L423.7,1062.2 L425.5,1058.1 L427.4,1053.0 L429.2,1047.6 L430.9,1041.2 L432.7,1036.0 L434.5,1033.2 L436.2,1031.1 L438.0,1029.1 L439.8,1026.5 L441.7,1024.1 L443.5,1023.1 L445.2,1024.7 L446.9,1027.6 L448.7,1031.0 L450.4,1033.2 L452.2,1033.8 L454.1,1034.5 L455.9,1035.5 L457.8,1035.6 L459.6,1035.7 L461.6,1035.3 L463.6,1035.2 L465.6,1034.7 L467.6,1033.7 L469.5,1033.3 L471.5,1032.4 L473.5,1031.1 L475.5,1030.5 L477.4,1029.2 L479.3,1027.8 L481.2,1025.8 L483.1,1024.0 L485.1,1022.0 L487.0,1019.6 L488.9,1017.9 L490.8,1016.9 L492.7,1016.2 L494.7,1015.1 L496.7,1014.7 L498.6,1014.3 L500.6,1013.6 L502.6,1013.2 L504.6,1012.8 L506.6,1012.5 L508.5,1012.4 L510.5,1012.0 L512.5,1011.8 L514.5,1011.9 L516.5,1011.2 L518.4,1011.5 L520.4,1011.5 L522.4,1011.1 L524.4,1011.0 L526.4,1011.3 L528.3,1010.8 L530.3,1010.6 L532.3,1010.6 L534.3,1010.4 L536.3,1009.5 L538.3,1009.1 L540.3,1008.4 L542.2,1008.0 L544.2,1006.9 L546.2,1006.4 L548.2,1005.1 L550.2,1004.5 L552.2,1004.1 L554.2,1003.7 L556.2,1002.8 L558.1,1002.1 L560.1,1001.5 L562.1,1001.3 L564.1,1000.5 L566.1,1000.5 L568.0,1000.0 L570.0,999.0 L572.0,998.5 L574.0,998.4 L576.0,997.8 L577.9,997.4 L579.9,996.5 L581.9,995.7 L583.9,995.3 L585.9,995.2 L587.8,994.3 L589.8,993.8 L591.8,993.3 L593.8,992.8 L595.8,992.3 L597.7,992.3 L599.7,991.2 L601.7,990.6 L603.7,990.9 L605.7,990.3 L607.6,989.9 L609.6,988.8 L611.6,988.5 L613.5,987.7 L615.4,986.1 L617.3,985.4 L619.1,984.3 L621.0,982.9 L622.9,981.5 L624.8,980.0 L626.5,978.9 L628.2,977.5 L629.8,976.1 L631.5,975.3 L633.2,973.7 L635.0,973.0 L636.7,971.1 L638.5,970.7 L640.2,969.3 L642.0,968.1 L643.7,966.4 L645.4,964.2 L647.0,961.0 L648.6,957.4 L650.3,955.8 L651.9,953.3 L653.6,951.9 L655.2,950.7 L656.9,948.9 L658.5,947.0 L660.2,945.6 L661.9,943.2 L663.5,940.8 L665.1,938.5 L666.8,936.9 L668.5,934.1 L670.1,932.1 L671.8,929.3 L673.4,926.7 L675.1,924.8 L676.7,922.9 L678.3,920.0 L680.0,918.8 L681.6,917.1 L683.2,915.0 L685.2,912.7 L687.2,909.2 L689.1,907.8 L691.1,905.9 L693.1,902.7 L695.0,901.0 L697.0,899.1 L699.0,897.5 L700.7,895.7 L702.4,894.2 L704.1,893.0 L705.9,890.2 L707.6,888.4 L709.0,886.8 L710.3,884.9 L711.7,882.6 L713.1,881.6 L714.4,878.8 L715.8,875.0 L717.2,873.2 L718.7,869.5 L719.6,863.9 L720.5,857.9 L721.4,855.3 L722.3,852.3 L723.1,847.5 L724.0,843.0 L725.2,839.1 L726.5,835.8 L727.8,835.1 L729.0,833.9 L730.1,831.1 L731.2,827.2 L731.9,823.0 L732.5,818.8 L734.0,813.2 L735.6,809.2 L737.5,803.1 L739.5,800.0 L741.1,797.6 L742.8,795.8 L744.5,794.2 L746.1,792.8 L747.9,790.9 L749.6,787.7 L751.4,785.3 L753.4,780.7 L755.4,775.1 L757.0,770.7 L758.6,764.2 L759.6,756.0 L760.6,749.1 L761.6,742.8 L762.6,737.0 L763.2,730.6 L763.9,722.7 L764.9,717.4 L765.9,710.5 L766.5,703.0 L767.2,696.5 L769.0,676.1 L770.9,656.0 L772.1,636.4 L773.3,618.3 L774.6,601.2 L776.0,589.1 L777.8,581.3 L779.5,577.2 L781.4,579.5 L783.2,588.8 L785.1,598.4 L787.0,612.2 L789.0,626.5 L790.9,634.7 L792.6,641.7 L794.3,647.4 L796.0,653.1 L797.6,652.8 L799.1,653.7 L800.7,656.9 L802.3,655.2 L804.1,656.9 L805.8,655.3 L807.6,654.1 L809.4,652.4 L811.2,648.9 L813.0,646.9 L814.7,642.0 L816.5,641.4 L818.4,637.6 L820.3,634.7 L822.1,629.1 L824.0,626.9 L825.9,623.0 L827.7,615.8 L829.5,611.7 L831.3,607.3 L833.1,602.7 L834.9,595.1 L836.7,588.9 L838.5,583.0 L840.5,577.1 L842.4,570.0 L844.4,560.8 L846.4,552.6 L848.3,544.5 L850.3,536.2 L852.2,528.6 L854.2,519.8 L856.1,514.6 L857.9,509.8 L859.8,501.3 L861.6,496.3 L863.5,487.9 L865.3,483.8 L867.1,477.9 L869.0,471.5 L870.7,465.3 L872.4,459.5 L874.1,454.5 L875.8,449.7 L877.5,440.3 L879.2,433.2 L881.0,428.7 L882.8,422.2 L884.5,413.3 L886.1,406.5 L887.8,401.6 L889.4,393.9 L891.1,390.0 L892.7,386.8 L894.5,386.7 L896.2,384.5 L898.0,383.5 L899.7,385.2 L901.5,386.4 L903.5,383.9 L905.4,386.7 L907.4,386.7 L909.3,390.4 L911.2,391.1 L913.2,391.8 L915.2,394.1 L917.1,396.1 L919.0,401.2 L921.0,403.8 L923.0,405.8 L924.9,409.1 L926.7,411.0 L928.6,414.9 L930.4,414.0 L932.2,419.3 L934.1,418.4 L935.9,420.1 L937.8,420.2 L939.6,422.1 L941.5,422.0 L943.5,420.6 L945.4,419.7 L947.4,420.0 L949.3,419.8 L951.3,416.8 L953.2,417.2 L955.2,417.1 L957.1,413.7 L958.9,411.3 L960.8,409.8 L962.6,410.2 L964.5,408.0 L966.3,407.2 L968.1,404.5 L970.0,399.6 L971.8,397.0 L973.6,394.9 L975.4,392.1 L977.3,391.8 L979.1,389.8 L980.9,387.3 L982.8,381.8 L984.6,382.1 L986.4,377.3 L988.2,375.5 L990.0,374.8 L991.9,369.7 L993.7,367.7 L995.5,369.3 L997.4,365.1 L999.2,364.0 L1001.0,363.8 L1002.8,363.2 L1004.7,359.1 L1006.5,359.8 L1008.4,359.5 L1010.2,359.1 L1012.0,357.3 L1013.9,358.7 L1015.7,360.3 L1017.5,357.8 L1019.4,358.9 L1021.2,357.4 L1023.0,358.8 L1024.8,361.3 L1026.7,359.5 L1028.5,364.0 L1030.3,364.9 L1032.1,362.0 L1034.0,366.8 L1035.8,365.2 L1037.7,368.1 L1039.5,369.1 L1041.3,368.1 L1043.2,371.1 L1045.0,372.3 L1046.8,374.3 L1048.7,373.2 L1050.5,377.0 L1052.3,379.5 L1054.1,379.8 L1055.9,380.8 L1057.8,380.6 L1059.6,384.0 L1061.4,385.1 L1063.3,388.6 L1065.1,390.2 L1066.9,391.6 L1068.8,391.8 L1070.6,395.8 L1072.5,397.6 L1074.3,397.6 L1076.3,402.8 L1078.2,403.8 L1080.2,403.6 L1082.2,409.2 L1084.1,407.9 L1086.1,410.9 L1088.0,414.8 L1090.0,416.5 L1092.0,418.6 L1094.0,421.4 L1096.0,423.0 L1098.0,424.9 L1100.0,426.8 L1102.0,428.7 L1104.0,433.9 L1105.9,436.2 L1107.8,437.5 L1109.7,440.5 L1111.6,441.0 L1113.4,442.8 L1115.3,445.4 L1117.2,449.6 L1119.1,448.5 L1121.0,452.8 L1122.9,454.4 L1124.8,459.4 L1126.7,460.7 L1128.6,463.7 L1130.5,467.2 L1132.5,470.8 L1134.4,474.6 L1136.3,475.4 L1138.2,479.5 L1140.1,478.3 L1142.0,480.1 L1143.9,480.2 L1145.8,480.7 L1147.8,483.7 L1149.7,484.1 L1151.6,482.7 L1153.2,483.8 L1154.8,486.1 L1156.5,489.1 L1158.1,491.4 L1159.7,493.3 L1161.3,495.0 L1162.9,495.6 L1164.5,499.0 L1166.1,500.5 L1167.7,504.1 L1169.3,506.6 L1171.0,507.5 L1172.6,510.0 L1174.2,514.3 L1176.2,514.3 L1178.2,519.9 L1180.2,523.1 L1182.2,526.1 L1183.8,526.3 L1185.4,529.3 L1187.1,531.8 L1188.7,534.6 L1190.3,538.5 L1191.9,540.3 L1193.5,542.0 L1195.1,547.1 L1196.7,549.1 L1198.3,553.0 L1200.0,557.0 L1201.6,558.2 L1203.2,564.6 L1204.8,567.9 L1206.4,571.1 L1208.0,575.0 L1209.6,578.6 L1211.2,581.5 L1212.8,586.3 L1214.5,588.5 L1216.1,593.7 L1217.7,597.8 L1219.3,600.7 L1220.9,604.7 L1222.5,609.4 L1224.1,612.8 L1225.8,613.9 L1227.4,619.3 L1229.0,622.2 L1230.6,623.7 L1232.2,627.9 L1233.8,630.8 L1235.4,633.6 L1237.0,638.3 L1238.6,642.8 L1240.2,644.3 L1241.8,649.3 L1243.5,652.4 L1245.3,654.5 L1247.0,660.2 L1248.8,663.1 L1250.3,666.9 L1251.7,669.3 L1253.2,672.2 L1254.7,673.9 L1256.1,677.8 L1257.6,680.8 L1259.3,683.5 L1261.1,685.2 L1262.6,688.4 L1264.0,689.8 L1265.5,690.9 L1267.3,693.1 L1269.0,695.5 L1270.8,698.0 L1272.3,699.8 L1273.8,702.4 L1275.4,704.7 L1276.9,706.0 L1278.4,707.4 L1279.8,709.7 L1281.3,710.5 L1283.0,713.0 L1284.8,715.9 L1286.5,717.2 L1288.3,718.8 L1289.8,722.6 L1291.2,724.0 L1292.7,725.1 L1294.5,727.5 L1296.3,730.3 L1298.1,732.9 L1299.9,734.4 L1301.7,736.3 L1303.4,739.1 L1305.0,742.8 L1306.7,743.7 L1308.7,747.2 L1310.6,749.4 L1312.6,752.2 L1314.6,754.8 L1316.5,758.0 L1318.5,760.2 L1320.5,762.5 L1322.4,765.3 L1324.4,768.0 L1326.4,771.4 L1328.3,773.1 L1330.3,775.6 L1332.3,779.1 L1334.2,781.6 L1336.2,784.7 L1338.2,785.8 L1340.1,788.9 L1342.1,791.2 L1343.8,792.3 L1345.4,796.2 L1347.1,796.5 L1348.8,798.2 L1350.5,800.8 L1352.2,802.1 L1353.9,804.9 L1355.6,806.2 L1357.3,807.6 L1358.9,809.2 L1360.6,812.3 L1362.3,813.2 L1364.0,815.9 L1365.7,817.0 L1367.3,819.6 L1369.0,820.1 L1370.7,821.8 L1372.4,823.7 L1374.1,826.5 L1375.8,828.1 L1377.6,829.6 L1379.4,831.3 L1381.2,834.5 L1383.1,837.4 L1385.1,839.0 L1387.0,840.3 L1389.0,842.6 L1390.9,844.9 L1392.9,847.2 L1394.5,848.6 L1396.2,850.3 L1397.8,853.0 L1399.5,855.1 L1401.1,855.6 L1403.0,858.8 L1405.0,860.0 L1406.9,862.5 L1408.7,864.6 L1410.5,866.4 L1412.2,866.8 L1414.0,869.1 L1415.8,871.4 L1417.5,873.7 L1419.2,874.2 L1421.0,876.4 L1422.8,879.1 L1424.5,879.8 L1426.2,882.0 L1428.0,883.8 L1429.8,886.1 L1431.5,888.3 L1433.2,889.1 L1435.0,891.8 L1436.6,893.5 L1438.1,895.3 L1439.7,896.7 L1441.2,898.8 L1442.6,899.7 L1444.2,901.6 L1445.9,903.3 L1447.5,905.9 L1449.2,907.4 L1451.2,909.3 L1453.2,911.3 L1455.1,914.1 L1457.1,916.0 L1458.8,917.8 L1460.4,919.1 L1462.0,920.9 L1463.7,922.2 L1465.3,924.7 L1467.0,925.6 L1468.7,927.9 L1470.3,930.0 L1472.3,931.9 L1474.2,933.2 L1476.2,935.3 L1478.2,937.9 L1480.2,939.5 L1482.2,941.5 L1484.1,943.2 L1486.1,944.4 L1488.1,946.6 L1490.0,947.9 L1492.0,949.0 L1494.0,950.5 L1496.0,951.6 L1498.0,953.4 L1499.9,955.3 L1501.9,955.7 L1503.7,957.4 L1505.6,958.2 L1507.4,959.3 L1509.3,961.2 L1511.1,962.0 L1513.1,963.2 L1515.0,964.7 L1517.0,966.7 L1519.0,968.0 L1521.0,968.9 L1523.0,970.6 L1525.0,972.8 L1527.0,973.6 L1528.6,975.2 L1530.2,976.3 L1531.9,977.9 L1533.5,979.0 L1535.5,980.7 L1537.5,982.0 L1539.4,983.2 L1541.4,984.7 L1543.4,986.1 L1545.4,988.3 L1547.4,989.1 L1549.4,990.5 L1551.3,992.6 L1553.1,993.3 L1555.0,995.2 L1556.8,995.9 L1558.7,997.5 L1560.5,998.7 L1562.3,1000.6 L1564.1,1001.8 L1566.0,1003.3 L1567.8,1004.8 L1569.5,1006.3 L1571.2,1007.3 L1573.0,1008.9 L1574.7,1010.1 L1576.7,1011.4 L1578.7,1013.4 L1580.6,1014.5 L1582.6,1016.0 L1584.6,1016.8 L1586.5,1018.3 L1588.5,1019.4 L1590.5,1020.7 L1592.3,1021.2 L1594.1,1022.4 L1595.8,1023.5 L1597.6,1024.2 L1599.4,1025.5 L1601.4,1026.8 L1603.4,1027.7 L1605.3,1029.0 L1607.3,1030.1 L1609.3,1030.9 L1611.3,1032.0 L1613.3,1033.4 L1615.2,1033.9 L1617.2,1034.8 L1619.2,1035.5 L1621.2,1036.4 L1623.2,1037.2 L1625.1,1038.6 L1627.1,1039.4 L1629.1,1040.4 L1631.1,1041.4 L1633.0,1042.2 L1635.0,1043.4 L1637.0,1044.1 L1639.0,1045.0 L1640.9,1046.2 L1642.9,1047.0 L1644.8,1047.7 L1646.8,1048.2 L1648.6,1048.9 L1650.4,1049.3 L1652.2,1050.1 L1653.9,1050.5 L1655.7,1050.6 L1657.5,1051.3" fill="none" stroke="#0000ff" stroke-width="4.7" stroke-linejoin="round" stroke-linecap="butt"/>
<path d="M244.0,1136.0 L246.0,1136.0 L248.0,1136.0 L250.0,1136.0 L252.0,1135.9 L254.0,1135.9 L256.0,1135.9 L258.0,1135.9 L260.0,1135.9 L262.0,1135.9 L264.0,1135.9 L266.0,1135.9 L268.0,1135.8 L270.0,1135.8 L272.0,1135.8 L274.0,1135.8 L276.0,1135.8 L278.0,1135.8 L280.0,1135.8 L282.0,1135.7 L284.0,1135.7 L286.0,1135.7 L288.0,1135.7 L290.0,1135.7 L292.0,1135.6 L294.0,1135.6 L296.0,1135.6 L298.0,1135.5 L300.0,1135.5 L302.0,1135.4 L304.0,1135.3 L306.0,1135.2 L308.0,1135.0 L310.0,1134.8 L312.0,1134.6 L314.0,1134.3 L316.0,1134.0 L318.0,1133.7 L320.0,1133.4 L322.0,1133.1 L324.0,1132.8 L326.0,1132.5 L328.0,1132.3 L330.0,1132.0 L332.0,1131.8 L334.0,1131.5 L335.9,1131.3 L337.9,1131.0 L339.9,1130.8 L341.9,1130.6 L343.9,1130.3 L345.9,1130.1 L347.8,1129.8 L349.8,1129.6 L351.8,1129.3 L353.8,1129.0 L355.8,1128.7 L357.8,1128.4 L359.7,1128.1 L361.7,1127.8 L363.7,1127.4 L365.6,1127.0 L367.6,1126.6 L369.5,1126.2 L371.4,1125.8 L373.3,1125.4 L375.3,1124.9 L377.2,1124.4 L379.1,1123.9 L381.0,1123.3 L383.0,1122.8 L384.9,1122.1 L386.9,1121.4 L388.8,1120.5 L390.8,1119.5 L392.7,1118.5 L394.7,1117.5 L396.6,1116.7 L398.6,1116.0 L400.5,1115.6 L402.4,1115.1 L404.3,1114.7 L406.2,1114.2 L408.0,1113.5 L409.7,1112.7 L411.5,1111.6 L413.3,1110.6 L415.0,1109.3 L416.8,1108.3 L418.6,1107.2 L420.3,1106.0 L422.1,1104.9 L423.9,1103.6 L425.6,1102.3 L427.4,1101.0 L429.1,1099.4 L430.8,1097.7 L432.5,1096.1 L434.2,1094.2 L435.9,1092.5 L437.8,1089.8 L439.6,1087.1 L441.4,1084.8 L443.3,1084.0 L445.2,1084.8 L447.1,1087.5 L448.9,1089.8 L450.8,1091.4 L452.5,1091.5 L454.2,1091.9 L455.9,1092.3 L457.6,1092.3 L459.3,1092.3 L461.3,1092.3 L463.2,1091.9 L465.2,1091.2 L467.1,1090.8 L469.1,1089.9 L471.1,1089.1 L473.0,1088.5 L475.0,1088.0 L476.9,1087.6 L478.7,1086.8 L480.6,1086.3 L482.5,1085.7 L484.3,1085.3 L486.2,1084.8 L488.0,1084.3 L489.9,1084.0 L491.8,1083.6 L493.6,1083.5 L495.5,1083.4 L497.4,1083.3 L499.4,1083.2 L501.3,1083.4 L503.2,1083.2 L505.2,1083.2 L507.1,1083.3 L509.0,1083.4 L511.0,1083.2 L512.9,1083.3 L514.8,1083.3 L516.8,1083.3 L518.7,1083.2 L520.7,1083.4 L522.6,1083.2 L524.5,1083.3 L526.5,1083.3 L528.4,1083.1 L530.3,1083.3 L532.3,1083.2 L534.2,1083.2 L536.1,1083.2 L538.1,1083.2 L540.0,1083.2 L541.9,1083.3 L543.9,1083.2 L545.8,1083.3 L547.8,1083.1 L549.7,1082.9 L551.6,1082.5 L553.6,1082.3 L555.5,1082.0 L557.5,1081.9 L559.4,1081.7 L561.4,1081.5 L563.3,1081.2 L565.2,1080.8 L567.2,1080.6 L569.1,1080.4 L571.1,1080.0 L573.0,1079.8 L574.9,1079.8 L576.9,1079.6 L578.8,1079.6 L580.8,1079.3 L582.7,1079.2 L584.7,1079.1 L586.6,1079.0 L588.6,1078.8 L590.5,1078.8 L592.5,1078.7 L594.4,1078.5 L596.4,1078.5 L598.3,1078.2 L600.3,1078.2 L602.2,1078.1 L604.2,1077.8 L606.1,1077.5 L608.0,1077.3 L609.9,1077.0 L611.8,1076.5 L613.7,1076.2 L615.6,1075.8 L617.5,1075.2 L619.5,1074.7 L621.4,1074.5 L623.3,1073.8 L625.2,1073.3 L627.1,1073.0 L629.0,1072.3 L630.9,1071.6 L632.8,1071.3 L634.7,1070.5 L636.6,1069.8 L638.5,1069.4 L640.4,1068.5 L642.3,1067.9 L644.2,1067.4 L646.1,1066.6 L648.0,1065.6 L649.9,1065.0 L651.8,1064.2 L653.7,1063.4 L655.6,1062.5 L657.5,1061.8 L659.4,1060.6 L661.3,1059.7 L663.2,1058.7 L665.1,1057.9 L667.0,1056.4 L669.0,1055.6 L670.9,1054.3 L672.8,1053.4 L674.7,1052.2 L676.6,1051.2 L678.5,1050.4 L680.4,1049.3 L682.2,1048.4 L684.1,1047.6 L685.9,1046.9 L687.8,1046.6 L689.6,1045.8 L691.5,1045.2 L693.3,1044.4 L695.2,1043.3 L697.0,1042.9 L698.9,1042.2 L700.7,1041.5 L702.5,1040.7 L704.4,1039.9 L706.2,1039.2 L708.1,1038.6 L709.9,1037.3 L711.8,1036.2 L713.4,1034.8 L715.1,1033.1 L716.8,1030.7 L718.4,1028.2 L720.1,1024.7 L721.7,1020.2 L723.4,1016.1 L725.0,1012.8 L726.7,1009.4 L728.3,1006.3 L730.0,1003.1 L731.6,1000.0 L733.3,997.6 L735.2,996.5 L737.2,994.8 L739.1,994.1 L741.0,994.0 L743.0,992.8 L744.9,992.9 L746.5,993.1 L748.2,994.4 L749.8,996.6 L751.5,997.9 L753.1,998.1 L755.1,996.2 L757.1,992.8 L759.1,988.8 L760.7,985.9 L762.3,982.1 L763.9,977.7 L765.5,973.3 L767.1,968.2 L768.7,963.5 L770.3,957.7 L772.0,947.3 L773.6,937.4 L775.2,933.2 L776.8,929.9 L778.4,927.9 L780.0,928.8 L781.6,928.5 L783.2,929.3 L784.8,930.6 L786.5,934.6 L788.1,938.2 L789.7,941.2 L791.7,944.2 L793.6,948.0 L795.5,950.4 L797.5,952.1 L799.5,952.4 L801.5,951.6 L803.4,952.0 L805.4,951.9 L807.4,951.8 L809.4,952.1 L811.4,952.3 L813.3,952.0 L815.3,951.7 L817.3,952.1 L819.1,951.0 L820.9,950.5 L822.7,949.1 L824.5,947.6 L826.2,945.9 L828.0,943.4 L829.8,942.1 L831.6,940.3 L833.4,939.1 L835.2,938.1 L837.0,936.4 L838.8,934.2 L840.5,933.4 L842.3,932.2 L844.1,930.9 L845.9,928.9 L847.7,927.3 L849.5,924.3 L851.3,923.5 L853.0,921.0 L854.8,918.6 L856.6,916.8 L858.4,914.4 L860.2,911.0 L862.0,909.6 L863.8,907.2 L865.6,903.9 L867.4,902.2 L869.1,899.4 L870.9,896.3 L872.7,894.6 L874.5,890.9 L876.4,888.6 L878.3,885.3 L880.2,881.9 L882.2,879.5 L884.1,876.8 L886.0,874.3 L887.9,873.7 L889.8,870.7 L891.8,869.3 L893.7,868.9 L895.6,868.6 L897.5,867.7 L899.4,867.4 L901.3,866.6 L903.2,866.6 L905.1,865.8 L907.0,865.6 L908.9,866.2 L910.8,866.0 L912.7,867.2 L914.6,869.6 L916.6,870.1 L918.5,872.3 L920.4,873.1 L922.4,873.0 L924.4,873.7 L926.4,874.1 L928.4,874.4 L930.4,873.4 L932.4,873.6 L934.4,874.1 L936.4,874.3 L938.4,874.0 L940.4,873.6 L942.2,874.4 L944.1,874.8 L945.9,873.6 L947.7,873.6 L949.5,873.0 L951.4,872.6 L953.2,872.8 L955.0,871.4 L956.8,871.4 L958.7,870.6 L960.5,870.1 L962.4,870.1 L964.3,868.1 L966.2,868.6 L968.1,867.0 L970.0,866.7 L971.9,866.1 L973.8,865.0 L975.7,863.7 L977.6,863.5 L979.5,861.4 L981.4,861.4 L983.3,860.1 L985.2,859.3 L987.2,858.9 L989.1,857.8 L991.0,856.6 L992.9,855.0 L994.8,853.9 L996.6,853.3 L998.4,851.9 L1000.2,850.9 L1002.0,851.1 L1003.7,848.7 L1005.5,849.1 L1007.3,847.6 L1009.1,847.1 L1011.0,846.6 L1012.9,845.8 L1014.9,846.2 L1016.8,845.5 L1018.7,845.8 L1020.6,845.5 L1022.4,846.7 L1024.2,846.9 L1026.0,846.3 L1027.8,847.0 L1029.5,847.9 L1031.3,847.4 L1033.1,847.4 L1034.9,848.2 L1036.8,848.7 L1038.7,850.1 L1040.7,850.3 L1042.6,851.0 L1044.5,852.6 L1046.4,852.5 L1048.3,854.4 L1050.2,855.1 L1052.1,855.8 L1054.0,857.6 L1055.9,858.0 L1057.8,860.1 L1059.7,861.4 L1061.6,861.8 L1063.5,863.3 L1065.4,864.9 L1067.3,865.8 L1069.2,867.0 L1071.1,868.4 L1073.1,869.6 L1075.0,870.5 L1076.9,871.9 L1078.8,871.7 L1080.7,873.1 L1082.6,874.0 L1084.5,874.2 L1086.4,874.9 L1088.3,875.2 L1090.2,877.0 L1092.2,876.6 L1094.1,877.3 L1096.0,878.5 L1097.9,878.0 L1099.8,879.7 L1101.7,879.0 L1103.6,879.4 L1105.5,880.5 L1107.4,881.0 L1109.3,882.5 L1111.3,883.0 L1113.2,883.4 L1115.1,883.5 L1117.0,884.2 L1118.9,884.4 L1120.8,885.9 L1122.8,885.8 L1124.7,886.3 L1126.6,887.5 L1128.5,887.5 L1130.4,888.5 L1132.3,890.1 L1134.2,889.6 L1136.1,890.5 L1138.0,891.4 L1139.9,892.4 L1141.8,893.6 L1143.7,894.3 L1145.6,895.5 L1147.5,896.6 L1149.4,897.8 L1151.3,899.6 L1153.3,900.5 L1155.2,901.9 L1157.1,903.7 L1159.0,903.9 L1160.9,905.2 L1162.8,907.2 L1164.7,907.7 L1166.6,909.1 L1168.5,909.1 L1170.5,910.6 L1172.4,912.0 L1174.3,912.4 L1176.2,914.0 L1178.1,915.0 L1180.0,916.0 L1181.9,918.2 L1183.8,918.9 L1185.7,920.5 L1187.7,922.3 L1189.6,923.6 L1191.5,925.9 L1193.4,927.2 L1195.3,928.8 L1197.2,930.4 L1199.1,932.5 L1201.0,934.1 L1202.9,935.6 L1204.9,936.7 L1206.8,938.2 L1208.7,940.0 L1210.6,941.0 L1212.5,942.7 L1214.4,945.3 L1216.3,946.0 L1218.2,948.5 L1220.1,949.8 L1222.0,951.7 L1223.9,952.3 L1225.8,954.1 L1227.7,956.2 L1229.6,956.8 L1231.5,958.3 L1233.4,960.0 L1235.3,961.2 L1237.2,962.5 L1239.2,964.3 L1241.1,964.8 L1243.0,966.8 L1244.9,967.5 L1246.8,967.9 L1248.7,969.6 L1250.6,969.7 L1252.5,970.7 L1254.4,971.5 L1256.4,971.8 L1258.3,972.8 L1260.2,973.0 L1262.1,973.8 L1264.0,975.2 L1265.8,975.8 L1267.6,976.1 L1269.4,977.0 L1271.2,977.9 L1272.9,977.9 L1274.7,978.9 L1276.5,979.3 L1278.3,980.0 L1280.2,980.7 L1282.1,981.6 L1283.9,982.2 L1285.8,983.1 L1287.7,984.0 L1289.6,985.0 L1291.5,986.0 L1293.3,986.8 L1295.2,987.4 L1297.1,988.1 L1299.0,989.3 L1301.0,989.5 L1302.9,990.4 L1304.8,991.9 L1306.8,992.7 L1308.7,993.3 L1310.7,994.4 L1312.6,995.3 L1314.5,996.4 L1316.5,997.4 L1318.4,998.3 L1320.3,999.7 L1322.3,1000.7 L1324.2,1001.5 L1326.1,1002.4 L1328.1,1003.2 L1330.0,1004.6 L1331.9,1005.7 L1333.8,1006.1 L1335.8,1007.5 L1337.7,1008.4 L1339.6,1009.4 L1341.6,1009.9 L1343.5,1011.2 L1345.4,1011.9 L1347.3,1012.8 L1349.3,1013.9 L1351.2,1014.9 L1353.1,1015.7 L1355.1,1016.6 L1357.0,1017.4 L1358.9,1018.1 L1360.9,1018.6 L1362.8,1019.9 L1364.8,1020.7 L1366.7,1021.5 L1368.6,1022.1 L1370.6,1022.5 L1372.5,1023.3 L1374.4,1024.0 L1376.4,1025.1 L1378.3,1025.8 L1380.2,1026.4 L1382.2,1027.6 L1384.1,1028.4 L1386.0,1029.1 L1388.0,1029.6 L1389.9,1030.2 L1391.8,1031.0 L1393.8,1032.1 L1395.7,1032.8 L1397.7,1033.3 L1399.6,1034.5 L1401.5,1035.0 L1403.5,1035.7 L1405.4,1036.5 L1407.4,1037.5 L1409.3,1038.2 L1411.3,1039.2 L1413.3,1039.7 L1415.3,1040.9 L1417.2,1041.5 L1419.2,1042.6 L1421.2,1043.1 L1423.1,1043.9 L1425.1,1044.8 L1427.1,1045.5 L1429.1,1046.3 L1431.0,1047.2 L1433.0,1047.5 L1434.9,1048.4 L1436.9,1049.0 L1438.8,1049.6 L1440.8,1050.0 L1442.7,1050.5 L1444.7,1051.0 L1446.6,1051.5 L1448.6,1051.9 L1450.5,1052.4 L1452.5,1053.0 L1454.4,1053.3 L1456.4,1054.0 L1458.3,1054.5 L1460.3,1054.9 L1462.2,1055.4 L1464.2,1056.1 L1466.1,1056.8 L1468.0,1057.1 L1470.0,1057.8 L1471.9,1058.5 L1473.9,1059.2 L1475.8,1059.7 L1477.7,1060.2 L1479.7,1060.8 L1481.6,1061.7 L1483.6,1062.2 L1485.5,1062.7 L1487.5,1063.8 L1489.4,1064.2 L1491.3,1064.9 L1493.3,1065.6 L1495.2,1066.2 L1497.2,1067.1 L1499.1,1067.7 L1501.0,1068.4 L1503.0,1069.1 L1504.9,1069.9 L1506.9,1070.3 L1508.8,1071.2 L1510.8,1071.8 L1512.7,1072.5 L1514.7,1073.4 L1516.6,1074.0 L1518.6,1074.6 L1520.5,1075.4 L1522.5,1076.2 L1524.4,1076.8 L1526.4,1077.4 L1528.3,1078.1 L1530.3,1078.7 L1532.2,1079.1 L1534.1,1079.7 L1536.1,1080.5 L1538.0,1081.0 L1540.0,1081.3 L1541.9,1081.9 L1543.8,1082.5 L1545.8,1082.9 L1547.7,1083.4 L1549.7,1083.8 L1551.6,1084.2 L1553.6,1084.7 L1555.5,1085.1 L1557.4,1085.8 L1559.4,1086.1 L1561.3,1086.7 L1563.3,1087.1 L1565.2,1087.6 L1567.1,1088.3 L1569.1,1088.6 L1571.0,1089.1 L1573.0,1089.6 L1574.9,1090.1 L1576.8,1090.6 L1578.8,1091.2 L1580.7,1091.7 L1582.7,1092.1 L1584.6,1092.8 L1586.6,1093.2 L1588.5,1093.5 L1590.4,1094.1 L1592.4,1094.5 L1594.3,1094.9 L1596.3,1095.2 L1598.2,1095.7 L1600.1,1096.1 L1602.1,1096.5 L1604.0,1096.8 L1606.0,1097.2 L1607.9,1097.5 L1609.9,1097.7 L1611.8,1097.9 L1613.8,1098.3 L1615.7,1098.5 L1617.7,1098.8 L1619.6,1099.1 L1621.6,1099.5 L1623.5,1099.8 L1625.5,1100.0 L1627.4,1100.4 L1629.4,1100.4 L1631.3,1100.8 L1633.2,1100.9 L1635.0,1101.3 L1636.9,1101.5 L1638.8,1101.7 L1640.7,1101.9 L1642.5,1102.2 L1644.4,1102.4 L1646.3,1102.7 L1648.1,1102.9 L1650.0,1103.1 L1651.9,1103.4 L1653.8,1103.6 L1655.6,1103.7 L1657.5,1104.1" fill="none" stroke="#ff00ff" stroke-width="4.7" stroke-linejoin="round" stroke-linecap="butt"/>
<path d="M244.0,1136.0 L246.0,1136.0 L248.0,1135.9 L250.0,1135.9 L252.0,1135.9 L254.0,1135.8 L256.0,1135.8 L258.0,1135.8 L260.0,1135.7 L262.0,1135.7 L264.0,1135.7 L266.0,1135.6 L268.0,1135.6 L270.0,1135.6 L272.0,1135.5 L274.0,1135.5 L276.0,1135.5 L278.0,1135.4 L280.0,1135.4 L282.0,1135.3 L284.0,1135.3 L286.0,1135.3 L288.0,1135.2 L290.0,1135.2 L292.0,1135.2 L294.0,1135.1 L296.0,1135.1 L298.0,1135.0 L300.0,1135.0 L302.0,1135.0 L304.0,1134.9 L306.0,1134.9 L308.0,1134.8 L310.0,1134.8 L312.0,1134.7 L314.0,1134.7 L316.0,1134.6 L318.0,1134.6 L320.0,1134.5 L322.0,1134.5 L324.0,1134.5 L326.0,1134.4 L328.0,1134.3 L330.0,1134.3 L332.0,1134.2 L334.0,1134.2 L336.0,1134.1 L338.0,1134.1 L340.0,1134.0 L341.9,1133.9 L343.8,1133.9 L345.7,1133.8 L347.6,1133.8 L349.5,1133.7 L351.4,1133.6 L353.3,1133.6 L355.2,1133.5 L357.1,1133.5 L359.1,1133.4 L361.0,1133.3 L362.9,1133.2 L364.8,1133.2 L366.7,1133.1 L368.6,1133.0 L370.5,1132.9 L372.4,1132.8 L374.3,1132.7 L376.3,1132.6 L378.3,1132.4 L380.3,1132.3 L382.3,1132.1 L384.3,1131.9 L386.3,1131.7 L388.3,1131.5 L390.2,1131.3 L392.2,1131.1 L394.2,1130.9 L396.2,1130.6 L398.2,1130.4 L400.2,1130.2 L402.2,1130.0 L404.2,1129.7 L406.2,1129.5 L408.2,1129.3 L410.2,1129.1 L412.1,1128.8 L414.1,1128.6 L416.1,1128.4 L418.1,1128.1 L420.1,1127.9 L422.1,1127.7 L424.1,1127.3 L426.0,1127.1 L428.0,1126.8 L430.0,1126.5 L432.0,1126.2 L434.0,1125.8 L436.0,1125.4 L438.0,1125.0 L439.6,1124.5 L441.2,1123.9 L442.8,1123.4 L444.4,1123.2 L446.3,1123.4 L448.2,1124.1 L450.1,1124.9 L452.0,1125.5 L453.9,1125.8 L455.9,1125.8 L457.8,1125.8 L459.8,1125.8 L461.7,1125.8 L463.7,1125.8 L465.6,1125.8 L467.6,1125.8 L469.6,1125.8 L471.5,1125.8 L473.5,1125.8 L475.4,1125.8 L477.4,1125.7 L479.3,1125.7 L481.3,1125.7 L483.3,1125.7 L485.2,1125.7 L487.2,1125.6 L489.1,1125.6 L491.1,1125.7 L493.0,1125.6 L495.0,1125.6 L496.9,1125.6 L498.9,1125.6 L500.9,1125.5 L502.8,1125.5 L504.8,1125.5 L506.7,1125.5 L508.7,1125.5 L510.6,1125.5 L512.6,1125.5 L514.6,1125.5 L516.5,1125.5 L518.5,1125.4 L520.4,1125.4 L522.4,1125.4 L524.3,1125.4 L526.3,1125.4 L528.3,1125.4 L530.2,1125.4 L532.2,1125.4 L534.1,1125.4 L536.1,1125.4 L538.0,1125.4 L540.0,1125.4 L542.0,1125.4 L543.9,1125.4 L545.9,1125.4 L547.9,1125.4 L549.8,1125.4 L551.8,1125.4 L553.8,1125.4 L555.7,1125.5 L557.7,1125.5 L559.7,1125.5 L561.6,1125.5 L563.6,1125.5 L565.6,1125.5 L567.5,1125.5 L569.5,1125.5 L571.5,1125.6 L573.4,1125.6 L575.4,1125.6 L577.4,1125.7 L579.3,1125.7 L581.3,1125.7 L583.3,1125.7 L585.2,1125.7 L587.2,1125.8 L589.2,1125.8 L591.1,1125.8 L593.1,1125.8 L595.1,1125.8 L597.0,1125.9 L599.0,1125.9 L601.0,1125.9 L602.9,1126.0 L604.9,1126.0 L606.9,1126.0 L608.8,1126.0 L610.8,1126.1 L612.8,1126.1 L614.7,1126.1 L616.7,1126.1 L618.7,1126.1 L620.6,1126.2 L622.6,1126.2 L624.6,1126.2 L626.6,1126.2 L628.5,1126.3 L630.5,1126.3 L632.5,1126.3 L634.5,1126.4 L636.4,1126.4 L638.4,1126.5 L640.4,1126.5 L642.4,1126.5 L644.3,1126.6 L646.3,1126.6 L648.3,1126.7 L650.3,1126.8 L652.2,1126.8 L654.2,1126.8 L656.2,1126.9 L658.2,1127.0 L660.1,1127.0 L662.1,1127.0 L664.1,1127.1 L666.1,1127.2 L668.0,1127.2 L670.0,1127.3 L672.0,1127.3 L674.0,1127.4 L676.0,1127.4 L677.9,1127.4 L679.9,1127.5 L681.9,1127.5 L683.9,1127.6 L685.8,1127.6 L687.8,1127.7 L689.8,1127.7 L691.8,1127.7 L693.7,1127.7 L695.7,1127.8 L697.7,1127.8 L699.7,1127.8 L701.6,1127.9 L703.6,1127.8 L705.6,1127.9 L707.6,1127.9 L709.5,1127.9 L711.5,1127.9 L713.5,1127.9 L715.1,1127.4 L716.8,1126.2 L718.4,1124.7 L720.1,1123.2 L721.7,1122.1 L723.5,1121.3 L725.4,1120.5 L727.2,1119.7 L729.0,1119.0 L730.9,1118.4 L732.7,1117.9 L734.5,1117.5 L736.4,1117.2 L738.2,1117.1 L740.2,1117.4 L742.2,1118.4 L744.2,1119.6 L746.2,1120.8 L748.2,1122.1 L750.2,1123.3 L752.2,1124.8 L754.1,1126.3 L756.1,1127.4 L758.1,1127.9 L760.1,1128.0 L762.1,1128.1 L764.1,1128.2 L766.1,1128.2 L768.1,1128.3 L770.1,1128.4 L772.1,1128.5 L774.1,1128.6 L776.1,1128.6 L778.1,1128.7 L780.1,1128.7 L782.1,1128.7 L784.1,1128.8 L786.1,1128.8 L788.1,1128.8 L790.1,1128.9 L792.1,1128.9 L794.1,1128.9 L796.1,1129.0 L798.1,1129.0 L800.0,1129.0 L802.0,1129.1 L804.0,1129.1 L806.0,1129.1 L808.0,1129.1 L810.0,1129.2 L812.0,1129.2 L814.0,1129.2 L816.0,1129.2 L818.0,1129.2 L820.0,1129.3 L822.0,1129.3 L824.0,1129.3 L826.0,1129.3 L828.0,1129.3 L830.0,1129.4 L832.0,1129.4 L834.0,1129.4 L836.0,1129.4 L838.0,1129.5 L840.0,1129.5 L842.0,1129.5 L844.0,1129.6 L846.0,1129.6 L848.0,1129.7 L850.0,1129.7 L852.0,1129.7 L854.0,1129.7 L856.0,1129.8 L858.0,1129.8 L860.0,1129.9 L862.0,1129.9 L864.0,1129.9 L866.0,1130.0 L868.0,1130.0 L870.0,1130.0 L872.0,1130.0 L874.0,1130.1 L876.0,1130.1 L878.0,1130.1 L880.0,1130.2 L882.0,1130.2 L884.0,1130.2 L886.0,1130.3 L888.0,1130.3 L890.0,1130.4 L892.0,1130.4 L894.0,1130.4 L896.0,1130.5 L898.0,1130.5 L900.0,1130.5 L902.0,1130.5 L904.0,1130.6 L906.0,1130.6 L908.0,1130.7 L910.0,1130.7 L912.0,1130.7 L914.0,1130.8 L916.0,1130.8 L918.0,1130.8 L920.0,1130.9 L922.0,1130.9 L924.0,1130.9 L926.0,1130.9 L928.0,1131.0 L930.0,1131.0 L932.0,1131.0 L934.0,1131.1 L936.0,1131.1 L938.0,1131.1 L940.0,1131.2 L942.0,1131.2 L944.0,1131.2 L946.0,1131.2 L948.0,1131.3 L950.0,1131.3 L952.0,1131.4 L954.0,1131.4 L956.0,1131.4 L958.0,1131.4 L960.0,1131.5 L962.0,1131.5 L964.0,1131.5 L966.0,1131.6 L968.0,1131.6 L970.0,1131.6 L972.0,1131.6 L974.0,1131.7 L976.0,1131.7 L978.0,1131.7 L980.0,1131.7 L982.0,1131.8 L984.0,1131.8 L986.0,1131.8 L988.0,1131.8 L990.0,1131.9 L992.0,1131.9 L994.0,1131.9 L996.0,1132.0 L998.0,1132.0 L1000.0,1132.0 L1002.0,1132.0 L1004.0,1132.0 L1006.0,1132.1 L1008.0,1132.1 L1010.0,1132.1 L1012.0,1132.1 L1014.0,1132.2 L1016.0,1132.2 L1018.0,1132.2 L1020.0,1132.2 L1022.0,1132.3 L1024.0,1132.3 L1026.0,1132.3 L1028.0,1132.3 L1030.0,1132.4 L1032.0,1132.4 L1034.0,1132.4 L1036.0,1132.4 L1038.0,1132.5 L1040.0,1132.5 L1042.0,1132.5 L1044.0,1132.5 L1046.0,1132.5 L1048.0,1132.6 L1050.0,1132.6 L1052.0,1132.6 L1054.0,1132.6 L1056.0,1132.7 L1058.0,1132.7 L1060.0,1132.7 L1062.0,1132.7 L1064.0,1132.7 L1066.0,1132.8 L1068.0,1132.8 L1070.0,1132.8 L1072.0,1132.8 L1074.0,1132.8 L1076.0,1132.9 L1078.0,1132.9 L1080.0,1132.9 L1082.0,1132.9 L1084.0,1133.0 L1086.0,1133.0 L1088.0,1133.0 L1090.0,1133.0 L1092.0,1133.0 L1094.0,1133.1 L1096.0,1133.1 L1098.0,1133.1 L1100.0,1133.1 L1102.0,1133.1 L1104.0,1133.2 L1106.0,1133.2 L1108.0,1133.2 L1110.0,1133.2 L1112.0,1133.2 L1114.0,1133.2 L1116.0,1133.3 L1118.0,1133.3 L1120.0,1133.3 L1122.0,1133.3 L1124.0,1133.3 L1126.0,1133.4 L1128.0,1133.4 L1130.0,1133.4 L1132.0,1133.4 L1134.0,1133.4 L1136.0,1133.4 L1138.0,1133.5 L1140.0,1133.5 L1142.0,1133.5 L1144.0,1133.5 L1146.0,1133.5 L1148.0,1133.6 L1150.0,1133.6 L1152.0,1133.6 L1154.0,1133.6 L1156.0,1133.6 L1158.0,1133.7 L1160.0,1133.7 L1162.0,1133.7 L1164.0,1133.7 L1166.0,1133.7 L1168.0,1133.7 L1170.0,1133.8 L1172.0,1133.8 L1174.0,1133.8 L1176.0,1133.8 L1178.0,1133.8 L1180.0,1133.8 L1182.0,1133.9 L1184.0,1133.9 L1186.0,1133.9 L1188.0,1133.9 L1190.0,1133.9 L1192.0,1133.9 L1194.0,1134.0 L1196.0,1134.0 L1198.0,1134.0 L1200.0,1134.0 L1202.0,1134.0 L1204.0,1134.0 L1206.0,1134.0 L1208.0,1134.1 L1210.0,1134.1 L1212.0,1134.1 L1214.0,1134.1 L1216.0,1134.1 L1218.0,1134.1 L1220.0,1134.2 L1222.0,1134.2 L1224.0,1134.2 L1226.0,1134.2 L1228.0,1134.2 L1230.0,1134.2 L1232.0,1134.3 L1234.0,1134.3 L1236.0,1134.3 L1238.0,1134.3 L1240.0,1134.3 L1242.0,1134.3 L1244.0,1134.3 L1246.0,1134.4 L1248.0,1134.4 L1250.0,1134.4 L1252.0,1134.4 L1254.0,1134.4 L1256.0,1134.4 L1258.0,1134.5 L1260.0,1134.5 L1262.0,1134.5 L1264.0,1134.5 L1266.0,1134.5 L1268.0,1134.5 L1270.0,1134.6 L1272.0,1134.6 L1274.0,1134.6 L1276.0,1134.6 L1278.0,1134.6 L1280.0,1134.6 L1282.0,1134.6 L1284.0,1134.7 L1286.0,1134.7 L1288.0,1134.7 L1290.0,1134.7 L1292.0,1134.7 L1294.0,1134.7 L1296.0,1134.7 L1298.0,1134.8 L1300.0,1134.8 L1302.0,1134.8 L1304.0,1134.8 L1306.0,1134.8 L1308.0,1134.8 L1310.0,1134.8 L1312.0,1134.9 L1314.0,1134.9 L1316.0,1134.9 L1318.0,1134.9 L1320.0,1134.9 L1322.0,1134.9 L1324.0,1134.9 L1326.0,1134.9 L1328.0,1135.0 L1330.0,1135.0 L1332.0,1135.0 L1334.0,1135.0 L1336.0,1135.0 L1338.0,1135.0 L1340.0,1135.0 L1342.0,1135.0 L1344.0,1135.1 L1346.0,1135.1 L1348.0,1135.1 L1350.0,1135.1 L1352.0,1135.1 L1354.0,1135.1 L1356.0,1135.1 L1358.0,1135.1 L1360.0,1135.1 L1362.0,1135.1 L1364.0,1135.2 L1366.0,1135.2 L1368.0,1135.2 L1370.0,1135.2 L1372.0,1135.2 L1374.0,1135.2 L1376.0,1135.2 L1378.0,1135.2 L1380.0,1135.2 L1382.0,1135.2 L1384.0,1135.2 L1386.0,1135.2 L1388.0,1135.3 L1390.0,1135.3 L1392.0,1135.3 L1394.0,1135.3 L1396.0,1135.3 L1398.0,1135.3 L1400.0,1135.3 L1402.0,1135.3 L1404.0,1135.3 L1406.0,1135.3 L1408.0,1135.3 L1410.0,1135.3 L1412.0,1135.3 L1414.0,1135.3 L1416.0,1135.3 L1418.0,1135.4 L1420.0,1135.4 L1422.0,1135.4 L1424.0,1135.4 L1425.9,1135.4 L1427.9,1135.4 L1429.9,1135.4 L1431.9,1135.4 L1433.9,1135.4 L1435.9,1135.4 L1437.9,1135.4 L1439.9,1135.4 L1441.9,1135.4 L1443.9,1135.4 L1445.9,1135.4 L1447.9,1135.4 L1449.9,1135.4 L1451.9,1135.4 L1453.9,1135.4 L1455.9,1135.4 L1457.9,1135.5 L1459.9,1135.5 L1461.9,1135.5 L1463.9,1135.5 L1465.9,1135.5 L1467.9,1135.5 L1469.9,1135.5 L1471.9,1135.5 L1473.9,1135.5 L1475.9,1135.5 L1477.8,1135.5 L1479.8,1135.5 L1481.8,1135.5 L1483.8,1135.5 L1485.8,1135.5 L1487.8,1135.5 L1489.8,1135.5 L1491.8,1135.5 L1493.8,1135.5 L1495.8,1135.5 L1497.8,1135.5 L1499.8,1135.5 L1501.8,1135.5 L1503.8,1135.5 L1505.8,1135.5 L1507.8,1135.6 L1509.8,1135.6 L1511.8,1135.6 L1513.8,1135.6 L1515.8,1135.6 L1517.8,1135.6 L1519.8,1135.6 L1521.8,1135.6 L1523.8,1135.6 L1525.8,1135.6 L1527.8,1135.6 L1529.7,1135.6 L1531.7,1135.6 L1533.7,1135.6 L1535.7,1135.6 L1537.7,1135.6 L1539.7,1135.6 L1541.7,1135.6 L1543.7,1135.6 L1545.7,1135.6 L1547.7,1135.6 L1549.7,1135.6 L1551.7,1135.6 L1553.7,1135.6 L1555.7,1135.6 L1557.7,1135.6 L1559.7,1135.6 L1561.7,1135.6 L1563.7,1135.6 L1565.7,1135.6 L1567.7,1135.6 L1569.7,1135.7 L1571.7,1135.7 L1573.7,1135.7 L1575.7,1135.7 L1577.7,1135.7 L1579.7,1135.7 L1581.6,1135.7 L1583.6,1135.7 L1585.6,1135.7 L1587.6,1135.7 L1589.6,1135.7 L1591.6,1135.7 L1593.6,1135.7 L1595.6,1135.7 L1597.6,1135.7 L1599.6,1135.7 L1601.6,1135.7 L1603.6,1135.7 L1605.6,1135.7 L1607.6,1135.7 L1609.6,1135.7 L1611.6,1135.7 L1613.6,1135.7 L1615.6,1135.7 L1617.6,1135.7 L1619.6,1135.7 L1621.6,1135.7 L1623.6,1135.7 L1625.6,1135.7 L1627.6,1135.7 L1629.6,1135.7 L1631.6,1135.8 L1633.5,1135.8 L1635.5,1135.8 L1637.5,1135.8 L1639.5,1135.8 L1641.5,1135.8 L1643.5,1135.8 L1645.5,1135.8 L1647.5,1135.8 L1649.5,1135.8 L1651.5,1135.8 L1653.5,1135.8 L1655.5,1135.8 L1657.5,1135.8" fill="none" stroke="#000000" stroke-width="4.7" stroke-linejoin="round" stroke-linecap="butt"/>
<rect x="244" y="1132" width="55" height="4" fill="#384a38"/>
<rect x="244" y="1136" width="55" height="3.8" fill="#4a3c48"/>
<rect x="299" y="1132" width="31" height="4" fill="#0a0ae6"/>
<rect x="299" y="1136" width="31" height="3.8" fill="#5050a8"/>
<rect x="141" y="17.3" width="1654.5" height="3.4" fill="#1a1a1a"/>
<rect x="141" y="20.7" width="1648" height="3.6" fill="#b2b2b2"/>
<rect x="161" y="17.3" width="3.5" height="1149.5" fill="#858585"/>
<rect x="164.5" y="17.3" width="4.1" height="1149.5" fill="#383838"/>
<rect x="141" y="1152.2" width="1651" height="3.8" fill="#9c9c9c"/>
<rect x="141" y="1156" width="1651" height="3.8" fill="#2a2a2a"/>
<rect x="1788.2" y="17.3" width="7.6" height="1149.5" fill="#5c5c5c"/>
<rect x="153" y="80.2" width="8" height="3.6" fill="#2a2a2a"/>
<rect x="153" y="83.8" width="8" height="3.2" fill="#a0a0a0"/>
<rect x="141" y="143.3" width="20" height="3.6" fill="#2a2a2a"/>
<rect x="141" y="146.9" width="20" height="3.2" fill="#a0a0a0"/>
<rect x="153" y="206.4" width="8" height="3.6" fill="#2a2a2a"/>
<rect x="153" y="210.0" width="8" height="3.2" fill="#a0a0a0"/>
<rect x="141" y="269.6" width="20" height="3.6" fill="#2a2a2a"/>
<rect x="141" y="273.2" width="20" height="3.2" fill="#a0a0a0"/>
<rect x="153" y="332.8" width="8" height="3.6" fill="#2a2a2a"/>
<rect x="153" y="336.4" width="8" height="3.2" fill="#a0a0a0"/>
<rect x="141" y="395.9" width="20" height="3.6" fill="#2a2a2a"/>
<rect x="141" y="399.5" width="20" height="3.2" fill="#a0a0a0"/>
<rect x="153" y="459.1" width="8" height="3.6" fill="#2a2a2a"/>
<rect x="153" y="462.7" width="8" height="3.2" fill="#a0a0a0"/>
<rect x="141" y="522.2" width="20" height="3.6" fill="#2a2a2a"/>
<rect x="141" y="525.8" width="20" height="3.2" fill="#a0a0a0"/>
<rect x="153" y="585.4" width="8" height="3.6" fill="#2a2a2a"/>
<rect x="153" y="589.0" width="8" height="3.2" fill="#a0a0a0"/>
<rect x="141" y="648.5" width="20" height="3.6" fill="#2a2a2a"/>
<rect x="141" y="652.1" width="20" height="3.2" fill="#a0a0a0"/>
<rect x="153" y="711.6" width="8" height="3.6" fill="#2a2a2a"/>
<rect x="153" y="715.2" width="8" height="3.2" fill="#a0a0a0"/>
<rect x="141" y="774.8" width="20" height="3.6" fill="#2a2a2a"/>
<rect x="141" y="778.4" width="20" height="3.2" fill="#a0a0a0"/>
<rect x="153" y="837.9" width="8" height="3.6" fill="#2a2a2a"/>
<rect x="153" y="841.5" width="8" height="3.2" fill="#a0a0a0"/>
<rect x="141" y="901.1" width="20" height="3.6" fill="#2a2a2a"/>
<rect x="141" y="904.7" width="20" height="3.2" fill="#a0a0a0"/>
<rect x="153" y="964.2" width="8" height="3.6" fill="#2a2a2a"/>
<rect x="153" y="967.9" width="8" height="3.2" fill="#a0a0a0"/>
<rect x="141" y="1027.4" width="20" height="3.6" fill="#2a2a2a"/>
<rect x="141" y="1031.0" width="20" height="3.2" fill="#a0a0a0"/>
<rect x="153" y="1090.5" width="8" height="3.6" fill="#2a2a2a"/>
<rect x="153" y="1094.1" width="8" height="3.2" fill="#a0a0a0"/>
<rect x="297.0" y="1159.8" width="8" height="19" fill="#e4e4e4"/>
<rect x="299.0" y="1159.8" width="4" height="19" fill="#111"/>
<rect x="433.6" y="1159.8" width="3.2" height="7" fill="#333"/>
<rect x="436.8" y="1159.8" width="3" height="7" fill="#999"/>
<rect x="568.2" y="1159.8" width="8" height="19" fill="#e4e4e4"/>
<rect x="570.2" y="1159.8" width="4" height="19" fill="#111"/>
<rect x="704.8" y="1159.8" width="3.2" height="7" fill="#333"/>
<rect x="708.0" y="1159.8" width="3" height="7" fill="#999"/>
<rect x="839.4" y="1159.8" width="8" height="19" fill="#e4e4e4"/>
<rect x="841.4" y="1159.8" width="4" height="19" fill="#111"/>
<rect x="976.0" y="1159.8" width="3.2" height="7" fill="#333"/>
<rect x="979.2" y="1159.8" width="3" height="7" fill="#999"/>
<rect x="1110.6" y="1159.8" width="8" height="19" fill="#e4e4e4"/>
<rect x="1112.6" y="1159.8" width="4" height="19" fill="#111"/>
<rect x="1247.2" y="1159.8" width="3.2" height="7" fill="#333"/>
<rect x="1250.4" y="1159.8" width="3" height="7" fill="#999"/>
<rect x="1381.8" y="1159.8" width="8" height="19" fill="#e4e4e4"/>
<rect x="1383.8" y="1159.8" width="4" height="19" fill="#111"/>
<rect x="1518.4" y="1159.8" width="3.2" height="7" fill="#333"/>
<rect x="1521.6" y="1159.8" width="3" height="7" fill="#999"/>
<rect x="1653.0" y="1159.8" width="8" height="19" fill="#e4e4e4"/>
<rect x="1655.0" y="1159.8" width="4" height="19" fill="#111"/>
<text x="301.0" y="1234" font-family="'Liberation Sans', sans-serif" font-size="50" text-anchor="middle" fill="#000">550</text>
<text x="572.2" y="1234" font-family="'Liberation Sans', sans-serif" font-size="50" text-anchor="middle" fill="#000">600</text>
<text x="843.4" y="1234" font-family="'Liberation Sans', sans-serif" font-size="50" text-anchor="middle" fill="#000">650</text>
<text x="1114.6" y="1234" font-family="'Liberation Sans', sans-serif" font-size="50" text-anchor="middle" fill="#000">700</text>
<text x="1385.8" y="1234" font-family="'Liberation Sans', sans-serif" font-size="50" text-anchor="middle" fill="#000">750</text>
<text x="1657.0" y="1234" font-family="'Liberation Sans', sans-serif" font-size="50" text-anchor="middle" fill="#000">800</text>
<text x="978.5" y="1329.4" font-family="'Liberation Sans', sans-serif" font-size="62" text-anchor="middle" fill="#000">Wavelength (nm)</text>
<text transform="translate(59.5,586.7) rotate(-90)" font-family="'Liberation Sans', sans-serif" font-size="62" letter-spacing="-0.2" text-anchor="middle" fill="#000">Photon counts</text>
<text x="541" y="95" font-family="'Liberation Sans', sans-serif" font-size="63" letter-spacing="0" fill="#000">637 nm</text>
<rect x="1255" y="68.1" width="130" height="3.9" fill="#66ff66"/>
<rect x="1255" y="72.0" width="130" height="3.8" fill="#44ff44"/>
<rect x="1255" y="135.0" width="130" height="4.0" fill="#ffdddd"/>
<rect x="1255" y="139.0" width="130" height="4.2" fill="#ff1010"/>
<rect x="1255" y="143.2" width="130" height="3.8" fill="#ffdddd"/>
<rect x="1255" y="205.9" width="130" height="4.2" fill="#4a4aff"/>
<rect x="1255" y="210.1" width="130" height="3.9" fill="#6868ff"/>
<rect x="1255" y="272.9" width="130" height="4.2" fill="#ffccff"/>
<rect x="1255" y="277.1" width="130" height="3.9" fill="#ff10ff"/>
<rect x="1255" y="281.0" width="130" height="4.0" fill="#fff0ff"/>
<rect x="1255" y="344.2" width="130" height="3.6" fill="#383838"/>
<rect x="1255" y="347.8" width="130" height="4.0" fill="#8a8a8a"/>
<text x="1397" y="90" font-family="'Liberation Sans', sans-serif" font-size="55" letter-spacing="1.1" fill="#000">NV_IPA_5min</text>
<text x="1397" y="158.7" font-family="'Liberation Sans', sans-serif" font-size="55" letter-spacing="1.1" fill="#000">NV_IPA_10min</text>
<text x="1397" y="228" font-family="'Liberation Sans', sans-serif" font-size="55" letter-spacing="1.1" fill="#000">NV_IPA_15min</text>
<text x="1397" y="296.5" font-family="'Liberation Sans', sans-serif" font-size="55" letter-spacing="1.1" fill="#000">NV_IPA_60min</text>
<text x="1397" y="366.2" font-family="'Liberation Sans', sans-serif" font-size="55" letter-spacing="1.1" fill="#000">IPA</text>
</svg>
</body></html>
